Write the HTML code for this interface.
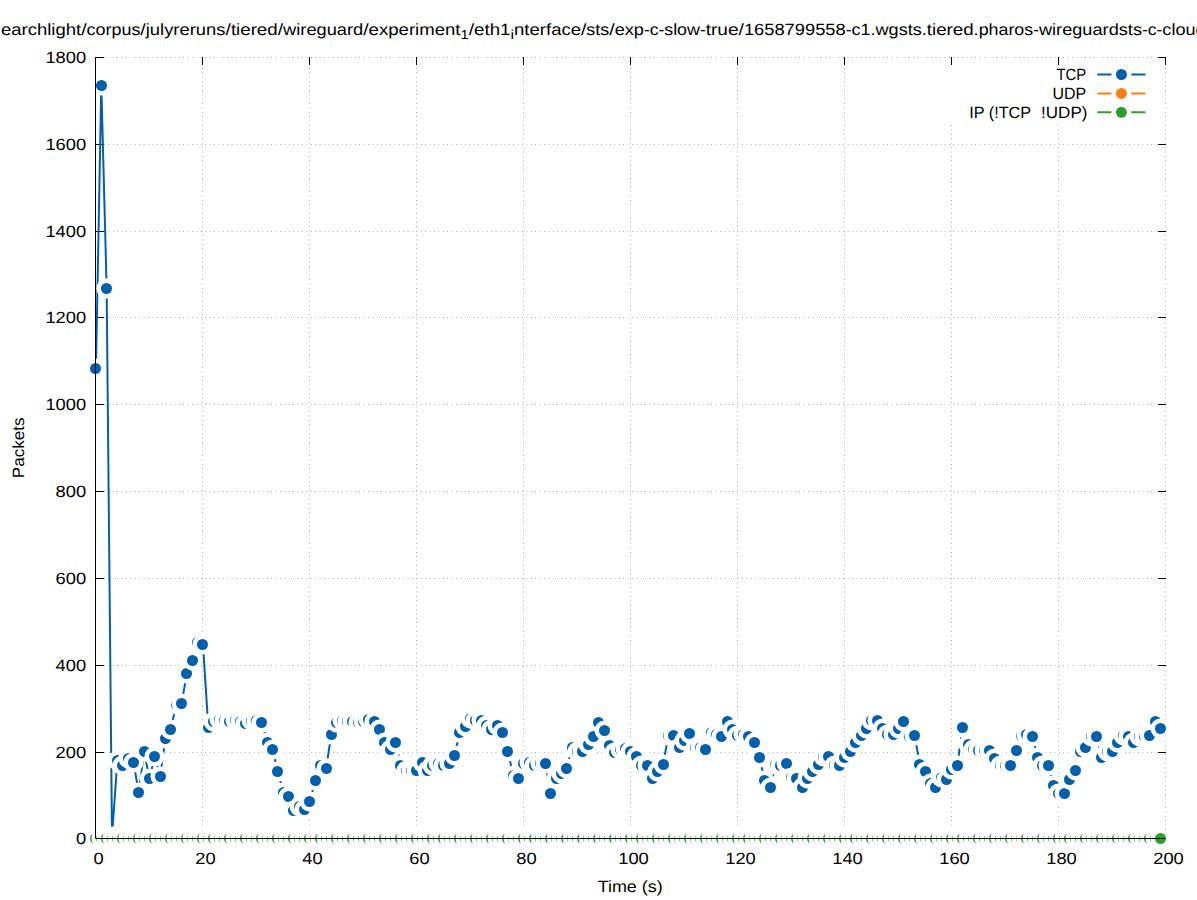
<!DOCTYPE html><html><head><meta charset="utf-8"><style>html,body{margin:0;padding:0;background:#fff;overflow:hidden}svg{display:block}text{font-family:"Liberation Sans",sans-serif;fill:#000;text-rendering:geometricPrecision}</style></head><body>
<svg width="1197" height="900" viewBox="0 0 1197 900">
<rect x="0" y="0" width="1197" height="900" fill="#fff"/>
<defs><pattern id="ph" patternUnits="userSpaceOnUse" x="95" y="0" width="22" height="1"><rect x="0" y="0" width="1" height="1" fill="#b2b2b2" fill-opacity="1"/><rect x="4" y="0" width="1" height="1" fill="#b2b2b2" fill-opacity="0.4"/><rect x="5" y="0" width="1" height="1" fill="#b2b2b2" fill-opacity="0.45"/><rect x="9" y="0" width="1" height="1" fill="#b2b2b2" fill-opacity="1"/><rect x="13" y="0" width="1" height="1" fill="#b2b2b2" fill-opacity="0.45"/><rect x="14" y="0" width="1" height="1" fill="#b2b2b2" fill-opacity="0.4"/><rect x="18" y="0" width="1" height="1" fill="#b2b2b2" fill-opacity="1"/></pattern><pattern id="pv" patternUnits="userSpaceOnUse" x="0" y="817" width="1" height="22"><rect x="0" y="21" width="1" height="1" fill="#b2b2b2" fill-opacity="1"/><rect x="0" y="17" width="1" height="1" fill="#b2b2b2" fill-opacity="0.4"/><rect x="0" y="16" width="1" height="1" fill="#b2b2b2" fill-opacity="0.45"/><rect x="0" y="12" width="1" height="1" fill="#b2b2b2" fill-opacity="1"/><rect x="0" y="8" width="1" height="1" fill="#b2b2b2" fill-opacity="0.45"/><rect x="0" y="7" width="1" height="1" fill="#b2b2b2" fill-opacity="0.4"/><rect x="0" y="3" width="1" height="1" fill="#b2b2b2" fill-opacity="1"/></pattern></defs>
<rect x="96" y="752" width="1070" height="1" fill="url(#ph)"/><rect x="96" y="665" width="1070" height="1" fill="url(#ph)"/><rect x="96" y="578" width="1070" height="1" fill="url(#ph)"/><rect x="96" y="491" width="1070" height="1" fill="url(#ph)"/><rect x="96" y="404" width="1070" height="1" fill="url(#ph)"/><rect x="96" y="317" width="1070" height="1" fill="url(#ph)"/><rect x="96" y="231" width="1070" height="1" fill="url(#ph)"/><rect x="96" y="144" width="1070" height="1" fill="url(#ph)"/><rect x="96" y="57" width="1070" height="1" fill="url(#ph)"/><rect x="202" y="57" width="1" height="781" fill="url(#pv)"/><rect x="309" y="57" width="1" height="781" fill="url(#pv)"/><rect x="416" y="57" width="1" height="781" fill="url(#pv)"/><rect x="523" y="57" width="1" height="781" fill="url(#pv)"/><rect x="630" y="57" width="1" height="781" fill="url(#pv)"/><rect x="737" y="57" width="1" height="781" fill="url(#pv)"/><rect x="844" y="57" width="1" height="781" fill="url(#pv)"/><rect x="951" y="57" width="1" height="781" fill="url(#pv)"/><rect x="1058" y="57" width="1" height="781" fill="url(#pv)"/><rect x="1165" y="57" width="1" height="781" fill="url(#pv)"/>
<path d="M95 838.5H104M1166 838.5H1158M95 752.5H104M1166 752.5H1158M95 665.5H104M1166 665.5H1158M95 578.5H104M1166 578.5H1158M95 491.5H104M1166 491.5H1158M95 404.5H104M1166 404.5H1158M95 317.5H104M1166 317.5H1158M95 231.5H104M1166 231.5H1158M95 144.5H104M1166 144.5H1158M95 57.5H104M1166 57.5H1158M95.5 839V831M95.5 57V65M202.5 839V831M202.5 57V65M309.5 839V831M309.5 57V65M416.5 839V831M416.5 57V65M523.5 839V831M523.5 57V65M630.5 839V831M630.5 57V65M737.5 839V831M737.5 57V65M844.5 839V831M844.5 57V65M951.5 839V831M951.5 57V65M1058.5 839V831M1058.5 57V65M1165.5 839V831M1165.5 57V65" stroke="#000" stroke-width="1" fill="none" stroke-linecap="butt"/>
<rect x="945" y="65" width="215" height="59.5" fill="#fff"/>
<polyline points="95.95,368.91 101.30,85.26 106.65,288.24 112.00,836.47 117.35,760.56 122.70,765.34 128.05,758.40 133.40,762.30 138.75,792.23 144.10,751.46 149.45,778.35 154.80,756.23 160.15,776.18 165.50,738.01 170.85,729.34 176.20,704.18 181.55,703.31 186.90,673.39 192.25,660.37 197.60,642.16 202.95,644.33 208.30,727.17 213.65,721.53 219.00,719.79 224.35,720.66 229.70,721.96 235.05,720.66 240.40,721.53 245.75,723.26 251.10,720.66 256.45,720.66 261.80,722.40 267.15,742.35 272.50,749.29 277.85,771.41 283.20,792.66 288.55,796.56 293.90,810.44 299.25,806.10 304.60,809.57 309.95,801.33 315.30,780.08 320.65,765.34 326.00,768.37 331.35,734.54 336.70,722.40 342.05,720.23 347.40,721.10 352.75,721.10 358.10,722.40 363.45,721.96 368.80,719.79 374.15,721.53 379.50,729.77 384.85,742.35 390.20,749.29 395.55,742.78 400.90,765.34 406.25,770.97 411.60,770.97 416.95,770.97 422.30,762.73 427.65,770.97 433.00,765.77 438.35,763.60 443.70,765.34 449.05,763.17 454.40,755.79 459.75,732.81 465.10,726.30 470.45,718.06 475.80,720.23 481.15,720.23 486.50,725.43 491.85,729.34 497.20,725.87 502.55,732.37 507.90,751.46 513.25,775.31 518.60,778.35 523.95,763.60 529.30,762.30 534.65,765.34 540.00,763.60 545.35,763.60 550.70,793.09 556.05,778.35 561.40,773.14 566.75,768.37 572.10,747.55 577.45,751.46 582.80,751.46 588.15,744.08 593.50,736.28 598.85,722.40 604.20,730.20 609.55,745.82 614.90,752.32 620.25,749.29 625.60,748.42 630.95,751.02 636.30,756.66 641.65,765.34 647.00,765.34 652.35,778.35 657.70,771.41 663.05,764.47 668.40,735.41 673.75,735.41 679.10,747.99 684.45,740.18 689.80,733.24 695.15,747.12 700.50,747.12 705.85,749.29 711.20,732.81 716.55,734.97 721.90,736.28 727.25,721.53 732.60,729.34 737.95,735.84 743.30,734.97 748.65,736.71 754.00,742.35 759.35,757.09 764.70,780.08 770.05,787.45 775.40,764.90 780.75,765.77 786.10,763.60 791.45,777.91 796.80,778.35 802.15,787.02 807.50,778.35 812.85,771.84 818.20,764.03 823.55,756.23 828.90,756.23 834.25,765.34 839.60,765.34 844.95,757.53 850.30,751.02 855.65,742.35 861.00,735.84 866.35,728.47 871.70,720.23 877.05,720.23 882.40,728.90 887.75,734.97 893.10,734.97 898.45,728.04 903.80,721.10 909.15,736.28 914.50,735.41 919.85,764.03 925.20,771.41 930.55,783.99 935.90,787.02 941.25,777.91 946.60,779.21 951.95,769.67 957.30,765.34 962.65,727.60 968.00,744.08 973.35,749.29 978.70,750.59 984.05,750.15 989.40,750.59 994.75,758.40 1000.10,765.77 1005.45,765.34 1010.80,765.34 1016.15,750.15 1021.50,735.41 1026.85,734.97 1032.20,736.28 1037.55,757.53 1042.90,765.34 1048.25,765.34 1053.60,785.72 1058.95,793.53 1064.30,793.53 1069.65,779.21 1075.00,770.97 1080.35,751.02 1085.70,747.12 1091.05,736.71 1096.40,736.28 1101.75,757.53 1107.10,751.89 1112.45,751.02 1117.80,742.35 1123.15,735.84 1128.50,736.71 1133.85,742.35 1139.20,736.71 1144.55,736.71 1149.90,735.41 1155.25,721.53 1160.60,728.47" fill="none" stroke="#0060ad" stroke-width="2" stroke-linejoin="miter"/>
<circle cx="95.5" cy="368.5" r="10.0" fill="#fff"/><circle cx="95.5" cy="368.5" r="5.5" fill="#0060ad"/><circle cx="101.5" cy="85.5" r="10.0" fill="#fff"/><circle cx="101.5" cy="85.5" r="5.5" fill="#0060ad"/><circle cx="106.5" cy="288.5" r="10.0" fill="#fff"/><circle cx="106.5" cy="288.5" r="5.5" fill="#0060ad"/><circle cx="112.5" cy="836.5" r="10.0" fill="#fff"/><circle cx="112.5" cy="836.5" r="5.5" fill="#0060ad"/><circle cx="117.5" cy="760.5" r="10.0" fill="#fff"/><circle cx="117.5" cy="760.5" r="5.5" fill="#0060ad"/><circle cx="122.5" cy="765.5" r="10.0" fill="#fff"/><circle cx="122.5" cy="765.5" r="5.5" fill="#0060ad"/><circle cx="128.5" cy="758.5" r="10.0" fill="#fff"/><circle cx="128.5" cy="758.5" r="5.5" fill="#0060ad"/><circle cx="133.5" cy="762.5" r="10.0" fill="#fff"/><circle cx="133.5" cy="762.5" r="5.5" fill="#0060ad"/><circle cx="138.5" cy="792.5" r="10.0" fill="#fff"/><circle cx="138.5" cy="792.5" r="5.5" fill="#0060ad"/><circle cx="144.5" cy="751.5" r="10.0" fill="#fff"/><circle cx="144.5" cy="751.5" r="5.5" fill="#0060ad"/><circle cx="149.5" cy="778.5" r="10.0" fill="#fff"/><circle cx="149.5" cy="778.5" r="5.5" fill="#0060ad"/><circle cx="154.5" cy="756.5" r="10.0" fill="#fff"/><circle cx="154.5" cy="756.5" r="5.5" fill="#0060ad"/><circle cx="160.5" cy="776.5" r="10.0" fill="#fff"/><circle cx="160.5" cy="776.5" r="5.5" fill="#0060ad"/><circle cx="165.5" cy="738.5" r="10.0" fill="#fff"/><circle cx="165.5" cy="738.5" r="5.5" fill="#0060ad"/><circle cx="170.5" cy="729.5" r="10.0" fill="#fff"/><circle cx="170.5" cy="729.5" r="5.5" fill="#0060ad"/><circle cx="176.5" cy="704.5" r="10.0" fill="#fff"/><circle cx="176.5" cy="704.5" r="5.5" fill="#0060ad"/><circle cx="181.5" cy="703.5" r="10.0" fill="#fff"/><circle cx="181.5" cy="703.5" r="5.5" fill="#0060ad"/><circle cx="186.5" cy="673.5" r="10.0" fill="#fff"/><circle cx="186.5" cy="673.5" r="5.5" fill="#0060ad"/><circle cx="192.5" cy="660.5" r="10.0" fill="#fff"/><circle cx="192.5" cy="660.5" r="5.5" fill="#0060ad"/><circle cx="197.5" cy="642.5" r="10.0" fill="#fff"/><circle cx="197.5" cy="642.5" r="5.5" fill="#0060ad"/><circle cx="202.5" cy="644.5" r="10.0" fill="#fff"/><circle cx="202.5" cy="644.5" r="5.5" fill="#0060ad"/><circle cx="208.5" cy="727.5" r="10.0" fill="#fff"/><circle cx="208.5" cy="727.5" r="5.5" fill="#0060ad"/><circle cx="213.5" cy="721.5" r="10.0" fill="#fff"/><circle cx="213.5" cy="721.5" r="5.5" fill="#0060ad"/><circle cx="219.5" cy="719.5" r="10.0" fill="#fff"/><circle cx="219.5" cy="719.5" r="5.5" fill="#0060ad"/><circle cx="224.5" cy="720.5" r="10.0" fill="#fff"/><circle cx="224.5" cy="720.5" r="5.5" fill="#0060ad"/><circle cx="229.5" cy="721.5" r="10.0" fill="#fff"/><circle cx="229.5" cy="721.5" r="5.5" fill="#0060ad"/><circle cx="235.5" cy="720.5" r="10.0" fill="#fff"/><circle cx="235.5" cy="720.5" r="5.5" fill="#0060ad"/><circle cx="240.5" cy="721.5" r="10.0" fill="#fff"/><circle cx="240.5" cy="721.5" r="5.5" fill="#0060ad"/><circle cx="245.5" cy="723.5" r="10.0" fill="#fff"/><circle cx="245.5" cy="723.5" r="5.5" fill="#0060ad"/><circle cx="251.5" cy="720.5" r="10.0" fill="#fff"/><circle cx="251.5" cy="720.5" r="5.5" fill="#0060ad"/><circle cx="256.5" cy="720.5" r="10.0" fill="#fff"/><circle cx="256.5" cy="720.5" r="5.5" fill="#0060ad"/><circle cx="261.5" cy="722.5" r="10.0" fill="#fff"/><circle cx="261.5" cy="722.5" r="5.5" fill="#0060ad"/><circle cx="267.5" cy="742.5" r="10.0" fill="#fff"/><circle cx="267.5" cy="742.5" r="5.5" fill="#0060ad"/><circle cx="272.5" cy="749.5" r="10.0" fill="#fff"/><circle cx="272.5" cy="749.5" r="5.5" fill="#0060ad"/><circle cx="277.5" cy="771.5" r="10.0" fill="#fff"/><circle cx="277.5" cy="771.5" r="5.5" fill="#0060ad"/><circle cx="283.5" cy="792.5" r="10.0" fill="#fff"/><circle cx="283.5" cy="792.5" r="5.5" fill="#0060ad"/><circle cx="288.5" cy="796.5" r="10.0" fill="#fff"/><circle cx="288.5" cy="796.5" r="5.5" fill="#0060ad"/><circle cx="293.5" cy="810.5" r="10.0" fill="#fff"/><circle cx="293.5" cy="810.5" r="5.5" fill="#0060ad"/><circle cx="299.5" cy="806.5" r="10.0" fill="#fff"/><circle cx="299.5" cy="806.5" r="5.5" fill="#0060ad"/><circle cx="304.5" cy="809.5" r="10.0" fill="#fff"/><circle cx="304.5" cy="809.5" r="5.5" fill="#0060ad"/><circle cx="309.5" cy="801.5" r="10.0" fill="#fff"/><circle cx="309.5" cy="801.5" r="5.5" fill="#0060ad"/><circle cx="315.5" cy="780.5" r="10.0" fill="#fff"/><circle cx="315.5" cy="780.5" r="5.5" fill="#0060ad"/><circle cx="320.5" cy="765.5" r="10.0" fill="#fff"/><circle cx="320.5" cy="765.5" r="5.5" fill="#0060ad"/><circle cx="326.5" cy="768.5" r="10.0" fill="#fff"/><circle cx="326.5" cy="768.5" r="5.5" fill="#0060ad"/><circle cx="331.5" cy="734.5" r="10.0" fill="#fff"/><circle cx="331.5" cy="734.5" r="5.5" fill="#0060ad"/><circle cx="336.5" cy="722.5" r="10.0" fill="#fff"/><circle cx="336.5" cy="722.5" r="5.5" fill="#0060ad"/><circle cx="342.5" cy="720.5" r="10.0" fill="#fff"/><circle cx="342.5" cy="720.5" r="5.5" fill="#0060ad"/><circle cx="347.5" cy="721.5" r="10.0" fill="#fff"/><circle cx="347.5" cy="721.5" r="5.5" fill="#0060ad"/><circle cx="352.5" cy="721.5" r="10.0" fill="#fff"/><circle cx="352.5" cy="721.5" r="5.5" fill="#0060ad"/><circle cx="358.5" cy="722.5" r="10.0" fill="#fff"/><circle cx="358.5" cy="722.5" r="5.5" fill="#0060ad"/><circle cx="363.5" cy="721.5" r="10.0" fill="#fff"/><circle cx="363.5" cy="721.5" r="5.5" fill="#0060ad"/><circle cx="368.5" cy="719.5" r="10.0" fill="#fff"/><circle cx="368.5" cy="719.5" r="5.5" fill="#0060ad"/><circle cx="374.5" cy="721.5" r="10.0" fill="#fff"/><circle cx="374.5" cy="721.5" r="5.5" fill="#0060ad"/><circle cx="379.5" cy="729.5" r="10.0" fill="#fff"/><circle cx="379.5" cy="729.5" r="5.5" fill="#0060ad"/><circle cx="384.5" cy="742.5" r="10.0" fill="#fff"/><circle cx="384.5" cy="742.5" r="5.5" fill="#0060ad"/><circle cx="390.5" cy="749.5" r="10.0" fill="#fff"/><circle cx="390.5" cy="749.5" r="5.5" fill="#0060ad"/><circle cx="395.5" cy="742.5" r="10.0" fill="#fff"/><circle cx="395.5" cy="742.5" r="5.5" fill="#0060ad"/><circle cx="400.5" cy="765.5" r="10.0" fill="#fff"/><circle cx="400.5" cy="765.5" r="5.5" fill="#0060ad"/><circle cx="406.5" cy="770.5" r="10.0" fill="#fff"/><circle cx="406.5" cy="770.5" r="5.5" fill="#0060ad"/><circle cx="411.5" cy="770.5" r="10.0" fill="#fff"/><circle cx="411.5" cy="770.5" r="5.5" fill="#0060ad"/><circle cx="416.5" cy="770.5" r="10.0" fill="#fff"/><circle cx="416.5" cy="770.5" r="5.5" fill="#0060ad"/><circle cx="422.5" cy="762.5" r="10.0" fill="#fff"/><circle cx="422.5" cy="762.5" r="5.5" fill="#0060ad"/><circle cx="427.5" cy="770.5" r="10.0" fill="#fff"/><circle cx="427.5" cy="770.5" r="5.5" fill="#0060ad"/><circle cx="432.5" cy="765.5" r="10.0" fill="#fff"/><circle cx="432.5" cy="765.5" r="5.5" fill="#0060ad"/><circle cx="438.5" cy="763.5" r="10.0" fill="#fff"/><circle cx="438.5" cy="763.5" r="5.5" fill="#0060ad"/><circle cx="443.5" cy="765.5" r="10.0" fill="#fff"/><circle cx="443.5" cy="765.5" r="5.5" fill="#0060ad"/><circle cx="449.5" cy="763.5" r="10.0" fill="#fff"/><circle cx="449.5" cy="763.5" r="5.5" fill="#0060ad"/><circle cx="454.5" cy="755.5" r="10.0" fill="#fff"/><circle cx="454.5" cy="755.5" r="5.5" fill="#0060ad"/><circle cx="459.5" cy="732.5" r="10.0" fill="#fff"/><circle cx="459.5" cy="732.5" r="5.5" fill="#0060ad"/><circle cx="465.5" cy="726.5" r="10.0" fill="#fff"/><circle cx="465.5" cy="726.5" r="5.5" fill="#0060ad"/><circle cx="470.5" cy="718.5" r="10.0" fill="#fff"/><circle cx="470.5" cy="718.5" r="5.5" fill="#0060ad"/><circle cx="475.5" cy="720.5" r="10.0" fill="#fff"/><circle cx="475.5" cy="720.5" r="5.5" fill="#0060ad"/><circle cx="481.5" cy="720.5" r="10.0" fill="#fff"/><circle cx="481.5" cy="720.5" r="5.5" fill="#0060ad"/><circle cx="486.5" cy="725.5" r="10.0" fill="#fff"/><circle cx="486.5" cy="725.5" r="5.5" fill="#0060ad"/><circle cx="491.5" cy="729.5" r="10.0" fill="#fff"/><circle cx="491.5" cy="729.5" r="5.5" fill="#0060ad"/><circle cx="497.5" cy="725.5" r="10.0" fill="#fff"/><circle cx="497.5" cy="725.5" r="5.5" fill="#0060ad"/><circle cx="502.5" cy="732.5" r="10.0" fill="#fff"/><circle cx="502.5" cy="732.5" r="5.5" fill="#0060ad"/><circle cx="507.5" cy="751.5" r="10.0" fill="#fff"/><circle cx="507.5" cy="751.5" r="5.5" fill="#0060ad"/><circle cx="513.5" cy="775.5" r="10.0" fill="#fff"/><circle cx="513.5" cy="775.5" r="5.5" fill="#0060ad"/><circle cx="518.5" cy="778.5" r="10.0" fill="#fff"/><circle cx="518.5" cy="778.5" r="5.5" fill="#0060ad"/><circle cx="523.5" cy="763.5" r="10.0" fill="#fff"/><circle cx="523.5" cy="763.5" r="5.5" fill="#0060ad"/><circle cx="529.5" cy="762.5" r="10.0" fill="#fff"/><circle cx="529.5" cy="762.5" r="5.5" fill="#0060ad"/><circle cx="534.5" cy="765.5" r="10.0" fill="#fff"/><circle cx="534.5" cy="765.5" r="5.5" fill="#0060ad"/><circle cx="540.5" cy="763.5" r="10.0" fill="#fff"/><circle cx="540.5" cy="763.5" r="5.5" fill="#0060ad"/><circle cx="545.5" cy="763.5" r="10.0" fill="#fff"/><circle cx="545.5" cy="763.5" r="5.5" fill="#0060ad"/><circle cx="550.5" cy="793.5" r="10.0" fill="#fff"/><circle cx="550.5" cy="793.5" r="5.5" fill="#0060ad"/><circle cx="556.5" cy="778.5" r="10.0" fill="#fff"/><circle cx="556.5" cy="778.5" r="5.5" fill="#0060ad"/><circle cx="561.5" cy="773.5" r="10.0" fill="#fff"/><circle cx="561.5" cy="773.5" r="5.5" fill="#0060ad"/><circle cx="566.5" cy="768.5" r="10.0" fill="#fff"/><circle cx="566.5" cy="768.5" r="5.5" fill="#0060ad"/><circle cx="572.5" cy="747.5" r="10.0" fill="#fff"/><circle cx="572.5" cy="747.5" r="5.5" fill="#0060ad"/><circle cx="577.5" cy="751.5" r="10.0" fill="#fff"/><circle cx="577.5" cy="751.5" r="5.5" fill="#0060ad"/><circle cx="582.5" cy="751.5" r="10.0" fill="#fff"/><circle cx="582.5" cy="751.5" r="5.5" fill="#0060ad"/><circle cx="588.5" cy="744.5" r="10.0" fill="#fff"/><circle cx="588.5" cy="744.5" r="5.5" fill="#0060ad"/><circle cx="593.5" cy="736.5" r="10.0" fill="#fff"/><circle cx="593.5" cy="736.5" r="5.5" fill="#0060ad"/><circle cx="598.5" cy="722.5" r="10.0" fill="#fff"/><circle cx="598.5" cy="722.5" r="5.5" fill="#0060ad"/><circle cx="604.5" cy="730.5" r="10.0" fill="#fff"/><circle cx="604.5" cy="730.5" r="5.5" fill="#0060ad"/><circle cx="609.5" cy="745.5" r="10.0" fill="#fff"/><circle cx="609.5" cy="745.5" r="5.5" fill="#0060ad"/><circle cx="614.5" cy="752.5" r="10.0" fill="#fff"/><circle cx="614.5" cy="752.5" r="5.5" fill="#0060ad"/><circle cx="620.5" cy="749.5" r="10.0" fill="#fff"/><circle cx="620.5" cy="749.5" r="5.5" fill="#0060ad"/><circle cx="625.5" cy="748.5" r="10.0" fill="#fff"/><circle cx="625.5" cy="748.5" r="5.5" fill="#0060ad"/><circle cx="630.5" cy="751.5" r="10.0" fill="#fff"/><circle cx="630.5" cy="751.5" r="5.5" fill="#0060ad"/><circle cx="636.5" cy="756.5" r="10.0" fill="#fff"/><circle cx="636.5" cy="756.5" r="5.5" fill="#0060ad"/><circle cx="641.5" cy="765.5" r="10.0" fill="#fff"/><circle cx="641.5" cy="765.5" r="5.5" fill="#0060ad"/><circle cx="647.5" cy="765.5" r="10.0" fill="#fff"/><circle cx="647.5" cy="765.5" r="5.5" fill="#0060ad"/><circle cx="652.5" cy="778.5" r="10.0" fill="#fff"/><circle cx="652.5" cy="778.5" r="5.5" fill="#0060ad"/><circle cx="657.5" cy="771.5" r="10.0" fill="#fff"/><circle cx="657.5" cy="771.5" r="5.5" fill="#0060ad"/><circle cx="663.5" cy="764.5" r="10.0" fill="#fff"/><circle cx="663.5" cy="764.5" r="5.5" fill="#0060ad"/><circle cx="668.5" cy="735.5" r="10.0" fill="#fff"/><circle cx="668.5" cy="735.5" r="5.5" fill="#0060ad"/><circle cx="673.5" cy="735.5" r="10.0" fill="#fff"/><circle cx="673.5" cy="735.5" r="5.5" fill="#0060ad"/><circle cx="679.5" cy="747.5" r="10.0" fill="#fff"/><circle cx="679.5" cy="747.5" r="5.5" fill="#0060ad"/><circle cx="684.5" cy="740.5" r="10.0" fill="#fff"/><circle cx="684.5" cy="740.5" r="5.5" fill="#0060ad"/><circle cx="689.5" cy="733.5" r="10.0" fill="#fff"/><circle cx="689.5" cy="733.5" r="5.5" fill="#0060ad"/><circle cx="695.5" cy="747.5" r="10.0" fill="#fff"/><circle cx="695.5" cy="747.5" r="5.5" fill="#0060ad"/><circle cx="700.5" cy="747.5" r="10.0" fill="#fff"/><circle cx="700.5" cy="747.5" r="5.5" fill="#0060ad"/><circle cx="705.5" cy="749.5" r="10.0" fill="#fff"/><circle cx="705.5" cy="749.5" r="5.5" fill="#0060ad"/><circle cx="711.5" cy="732.5" r="10.0" fill="#fff"/><circle cx="711.5" cy="732.5" r="5.5" fill="#0060ad"/><circle cx="716.5" cy="734.5" r="10.0" fill="#fff"/><circle cx="716.5" cy="734.5" r="5.5" fill="#0060ad"/><circle cx="721.5" cy="736.5" r="10.0" fill="#fff"/><circle cx="721.5" cy="736.5" r="5.5" fill="#0060ad"/><circle cx="727.5" cy="721.5" r="10.0" fill="#fff"/><circle cx="727.5" cy="721.5" r="5.5" fill="#0060ad"/><circle cx="732.5" cy="729.5" r="10.0" fill="#fff"/><circle cx="732.5" cy="729.5" r="5.5" fill="#0060ad"/><circle cx="737.5" cy="735.5" r="10.0" fill="#fff"/><circle cx="737.5" cy="735.5" r="5.5" fill="#0060ad"/><circle cx="743.5" cy="734.5" r="10.0" fill="#fff"/><circle cx="743.5" cy="734.5" r="5.5" fill="#0060ad"/><circle cx="748.5" cy="736.5" r="10.0" fill="#fff"/><circle cx="748.5" cy="736.5" r="5.5" fill="#0060ad"/><circle cx="754.5" cy="742.5" r="10.0" fill="#fff"/><circle cx="754.5" cy="742.5" r="5.5" fill="#0060ad"/><circle cx="759.5" cy="757.5" r="10.0" fill="#fff"/><circle cx="759.5" cy="757.5" r="5.5" fill="#0060ad"/><circle cx="764.5" cy="780.5" r="10.0" fill="#fff"/><circle cx="764.5" cy="780.5" r="5.5" fill="#0060ad"/><circle cx="770.5" cy="787.5" r="10.0" fill="#fff"/><circle cx="770.5" cy="787.5" r="5.5" fill="#0060ad"/><circle cx="775.5" cy="764.5" r="10.0" fill="#fff"/><circle cx="775.5" cy="764.5" r="5.5" fill="#0060ad"/><circle cx="780.5" cy="765.5" r="10.0" fill="#fff"/><circle cx="780.5" cy="765.5" r="5.5" fill="#0060ad"/><circle cx="786.5" cy="763.5" r="10.0" fill="#fff"/><circle cx="786.5" cy="763.5" r="5.5" fill="#0060ad"/><circle cx="791.5" cy="777.5" r="10.0" fill="#fff"/><circle cx="791.5" cy="777.5" r="5.5" fill="#0060ad"/><circle cx="796.5" cy="778.5" r="10.0" fill="#fff"/><circle cx="796.5" cy="778.5" r="5.5" fill="#0060ad"/><circle cx="802.5" cy="787.5" r="10.0" fill="#fff"/><circle cx="802.5" cy="787.5" r="5.5" fill="#0060ad"/><circle cx="807.5" cy="778.5" r="10.0" fill="#fff"/><circle cx="807.5" cy="778.5" r="5.5" fill="#0060ad"/><circle cx="812.5" cy="771.5" r="10.0" fill="#fff"/><circle cx="812.5" cy="771.5" r="5.5" fill="#0060ad"/><circle cx="818.5" cy="764.5" r="10.0" fill="#fff"/><circle cx="818.5" cy="764.5" r="5.5" fill="#0060ad"/><circle cx="823.5" cy="756.5" r="10.0" fill="#fff"/><circle cx="823.5" cy="756.5" r="5.5" fill="#0060ad"/><circle cx="828.5" cy="756.5" r="10.0" fill="#fff"/><circle cx="828.5" cy="756.5" r="5.5" fill="#0060ad"/><circle cx="834.5" cy="765.5" r="10.0" fill="#fff"/><circle cx="834.5" cy="765.5" r="5.5" fill="#0060ad"/><circle cx="839.5" cy="765.5" r="10.0" fill="#fff"/><circle cx="839.5" cy="765.5" r="5.5" fill="#0060ad"/><circle cx="844.5" cy="757.5" r="10.0" fill="#fff"/><circle cx="844.5" cy="757.5" r="5.5" fill="#0060ad"/><circle cx="850.5" cy="751.5" r="10.0" fill="#fff"/><circle cx="850.5" cy="751.5" r="5.5" fill="#0060ad"/><circle cx="855.5" cy="742.5" r="10.0" fill="#fff"/><circle cx="855.5" cy="742.5" r="5.5" fill="#0060ad"/><circle cx="861.5" cy="735.5" r="10.0" fill="#fff"/><circle cx="861.5" cy="735.5" r="5.5" fill="#0060ad"/><circle cx="866.5" cy="728.5" r="10.0" fill="#fff"/><circle cx="866.5" cy="728.5" r="5.5" fill="#0060ad"/><circle cx="871.5" cy="720.5" r="10.0" fill="#fff"/><circle cx="871.5" cy="720.5" r="5.5" fill="#0060ad"/><circle cx="877.5" cy="720.5" r="10.0" fill="#fff"/><circle cx="877.5" cy="720.5" r="5.5" fill="#0060ad"/><circle cx="882.5" cy="728.5" r="10.0" fill="#fff"/><circle cx="882.5" cy="728.5" r="5.5" fill="#0060ad"/><circle cx="887.5" cy="734.5" r="10.0" fill="#fff"/><circle cx="887.5" cy="734.5" r="5.5" fill="#0060ad"/><circle cx="893.5" cy="734.5" r="10.0" fill="#fff"/><circle cx="893.5" cy="734.5" r="5.5" fill="#0060ad"/><circle cx="898.5" cy="728.5" r="10.0" fill="#fff"/><circle cx="898.5" cy="728.5" r="5.5" fill="#0060ad"/><circle cx="903.5" cy="721.5" r="10.0" fill="#fff"/><circle cx="903.5" cy="721.5" r="5.5" fill="#0060ad"/><circle cx="909.5" cy="736.5" r="10.0" fill="#fff"/><circle cx="909.5" cy="736.5" r="5.5" fill="#0060ad"/><circle cx="914.5" cy="735.5" r="10.0" fill="#fff"/><circle cx="914.5" cy="735.5" r="5.5" fill="#0060ad"/><circle cx="919.5" cy="764.5" r="10.0" fill="#fff"/><circle cx="919.5" cy="764.5" r="5.5" fill="#0060ad"/><circle cx="925.5" cy="771.5" r="10.0" fill="#fff"/><circle cx="925.5" cy="771.5" r="5.5" fill="#0060ad"/><circle cx="930.5" cy="783.5" r="10.0" fill="#fff"/><circle cx="930.5" cy="783.5" r="5.5" fill="#0060ad"/><circle cx="935.5" cy="787.5" r="10.0" fill="#fff"/><circle cx="935.5" cy="787.5" r="5.5" fill="#0060ad"/><circle cx="941.5" cy="777.5" r="10.0" fill="#fff"/><circle cx="941.5" cy="777.5" r="5.5" fill="#0060ad"/><circle cx="946.5" cy="779.5" r="10.0" fill="#fff"/><circle cx="946.5" cy="779.5" r="5.5" fill="#0060ad"/><circle cx="951.5" cy="769.5" r="10.0" fill="#fff"/><circle cx="951.5" cy="769.5" r="5.5" fill="#0060ad"/><circle cx="957.5" cy="765.5" r="10.0" fill="#fff"/><circle cx="957.5" cy="765.5" r="5.5" fill="#0060ad"/><circle cx="962.5" cy="727.5" r="10.0" fill="#fff"/><circle cx="962.5" cy="727.5" r="5.5" fill="#0060ad"/><circle cx="968.5" cy="744.5" r="10.0" fill="#fff"/><circle cx="968.5" cy="744.5" r="5.5" fill="#0060ad"/><circle cx="973.5" cy="749.5" r="10.0" fill="#fff"/><circle cx="973.5" cy="749.5" r="5.5" fill="#0060ad"/><circle cx="978.5" cy="750.5" r="10.0" fill="#fff"/><circle cx="978.5" cy="750.5" r="5.5" fill="#0060ad"/><circle cx="984.5" cy="750.5" r="10.0" fill="#fff"/><circle cx="984.5" cy="750.5" r="5.5" fill="#0060ad"/><circle cx="989.5" cy="750.5" r="10.0" fill="#fff"/><circle cx="989.5" cy="750.5" r="5.5" fill="#0060ad"/><circle cx="994.5" cy="758.5" r="10.0" fill="#fff"/><circle cx="994.5" cy="758.5" r="5.5" fill="#0060ad"/><circle cx="1000.5" cy="765.5" r="10.0" fill="#fff"/><circle cx="1000.5" cy="765.5" r="5.5" fill="#0060ad"/><circle cx="1005.5" cy="765.5" r="10.0" fill="#fff"/><circle cx="1005.5" cy="765.5" r="5.5" fill="#0060ad"/><circle cx="1010.5" cy="765.5" r="10.0" fill="#fff"/><circle cx="1010.5" cy="765.5" r="5.5" fill="#0060ad"/><circle cx="1016.5" cy="750.5" r="10.0" fill="#fff"/><circle cx="1016.5" cy="750.5" r="5.5" fill="#0060ad"/><circle cx="1021.5" cy="735.5" r="10.0" fill="#fff"/><circle cx="1021.5" cy="735.5" r="5.5" fill="#0060ad"/><circle cx="1026.5" cy="734.5" r="10.0" fill="#fff"/><circle cx="1026.5" cy="734.5" r="5.5" fill="#0060ad"/><circle cx="1032.5" cy="736.5" r="10.0" fill="#fff"/><circle cx="1032.5" cy="736.5" r="5.5" fill="#0060ad"/><circle cx="1037.5" cy="757.5" r="10.0" fill="#fff"/><circle cx="1037.5" cy="757.5" r="5.5" fill="#0060ad"/><circle cx="1042.5" cy="765.5" r="10.0" fill="#fff"/><circle cx="1042.5" cy="765.5" r="5.5" fill="#0060ad"/><circle cx="1048.5" cy="765.5" r="10.0" fill="#fff"/><circle cx="1048.5" cy="765.5" r="5.5" fill="#0060ad"/><circle cx="1053.5" cy="785.5" r="10.0" fill="#fff"/><circle cx="1053.5" cy="785.5" r="5.5" fill="#0060ad"/><circle cx="1058.5" cy="793.5" r="10.0" fill="#fff"/><circle cx="1058.5" cy="793.5" r="5.5" fill="#0060ad"/><circle cx="1064.5" cy="793.5" r="10.0" fill="#fff"/><circle cx="1064.5" cy="793.5" r="5.5" fill="#0060ad"/><circle cx="1069.5" cy="779.5" r="10.0" fill="#fff"/><circle cx="1069.5" cy="779.5" r="5.5" fill="#0060ad"/><circle cx="1075.5" cy="770.5" r="10.0" fill="#fff"/><circle cx="1075.5" cy="770.5" r="5.5" fill="#0060ad"/><circle cx="1080.5" cy="751.5" r="10.0" fill="#fff"/><circle cx="1080.5" cy="751.5" r="5.5" fill="#0060ad"/><circle cx="1085.5" cy="747.5" r="10.0" fill="#fff"/><circle cx="1085.5" cy="747.5" r="5.5" fill="#0060ad"/><circle cx="1091.5" cy="736.5" r="10.0" fill="#fff"/><circle cx="1091.5" cy="736.5" r="5.5" fill="#0060ad"/><circle cx="1096.5" cy="736.5" r="10.0" fill="#fff"/><circle cx="1096.5" cy="736.5" r="5.5" fill="#0060ad"/><circle cx="1101.5" cy="757.5" r="10.0" fill="#fff"/><circle cx="1101.5" cy="757.5" r="5.5" fill="#0060ad"/><circle cx="1107.5" cy="751.5" r="10.0" fill="#fff"/><circle cx="1107.5" cy="751.5" r="5.5" fill="#0060ad"/><circle cx="1112.5" cy="751.5" r="10.0" fill="#fff"/><circle cx="1112.5" cy="751.5" r="5.5" fill="#0060ad"/><circle cx="1117.5" cy="742.5" r="10.0" fill="#fff"/><circle cx="1117.5" cy="742.5" r="5.5" fill="#0060ad"/><circle cx="1123.5" cy="735.5" r="10.0" fill="#fff"/><circle cx="1123.5" cy="735.5" r="5.5" fill="#0060ad"/><circle cx="1128.5" cy="736.5" r="10.0" fill="#fff"/><circle cx="1128.5" cy="736.5" r="5.5" fill="#0060ad"/><circle cx="1133.5" cy="742.5" r="10.0" fill="#fff"/><circle cx="1133.5" cy="742.5" r="5.5" fill="#0060ad"/><circle cx="1139.5" cy="736.5" r="10.0" fill="#fff"/><circle cx="1139.5" cy="736.5" r="5.5" fill="#0060ad"/><circle cx="1144.5" cy="736.5" r="10.0" fill="#fff"/><circle cx="1144.5" cy="736.5" r="5.5" fill="#0060ad"/><circle cx="1149.5" cy="735.5" r="10.0" fill="#fff"/><circle cx="1149.5" cy="735.5" r="5.5" fill="#0060ad"/><circle cx="1155.5" cy="721.5" r="10.0" fill="#fff"/><circle cx="1155.5" cy="721.5" r="5.5" fill="#0060ad"/><circle cx="1160.5" cy="728.5" r="10.0" fill="#fff"/><circle cx="1160.5" cy="728.5" r="5.5" fill="#0060ad"/>
<polyline points="95.95,838.20 101.30,838.20 106.65,838.20 112.00,838.20 117.35,838.20 122.70,838.20 128.05,838.20 133.40,838.20 138.75,838.20 144.10,838.20 149.45,838.20 154.80,838.20 160.15,838.20 165.50,838.20 170.85,838.20 176.20,838.20 181.55,838.20 186.90,838.20 192.25,838.20 197.60,838.20 202.95,838.20 208.30,838.20 213.65,838.20 219.00,838.20 224.35,838.20 229.70,838.20 235.05,838.20 240.40,838.20 245.75,838.20 251.10,838.20 256.45,838.20 261.80,838.20 267.15,838.20 272.50,838.20 277.85,838.20 283.20,838.20 288.55,838.20 293.90,838.20 299.25,838.20 304.60,838.20 309.95,838.20 315.30,838.20 320.65,838.20 326.00,838.20 331.35,838.20 336.70,838.20 342.05,838.20 347.40,838.20 352.75,838.20 358.10,838.20 363.45,838.20 368.80,838.20 374.15,838.20 379.50,838.20 384.85,838.20 390.20,838.20 395.55,838.20 400.90,838.20 406.25,838.20 411.60,838.20 416.95,838.20 422.30,838.20 427.65,838.20 433.00,838.20 438.35,838.20 443.70,838.20 449.05,838.20 454.40,838.20 459.75,838.20 465.10,838.20 470.45,838.20 475.80,838.20 481.15,838.20 486.50,838.20 491.85,838.20 497.20,838.20 502.55,838.20 507.90,838.20 513.25,838.20 518.60,838.20 523.95,838.20 529.30,838.20 534.65,838.20 540.00,838.20 545.35,838.20 550.70,838.20 556.05,838.20 561.40,838.20 566.75,838.20 572.10,838.20 577.45,838.20 582.80,838.20 588.15,838.20 593.50,838.20 598.85,838.20 604.20,838.20 609.55,838.20 614.90,838.20 620.25,838.20 625.60,838.20 630.95,838.20 636.30,838.20 641.65,838.20 647.00,838.20 652.35,838.20 657.70,838.20 663.05,838.20 668.40,838.20 673.75,838.20 679.10,838.20 684.45,838.20 689.80,838.20 695.15,838.20 700.50,838.20 705.85,838.20 711.20,838.20 716.55,838.20 721.90,838.20 727.25,838.20 732.60,838.20 737.95,838.20 743.30,838.20 748.65,838.20 754.00,838.20 759.35,838.20 764.70,838.20 770.05,838.20 775.40,838.20 780.75,838.20 786.10,838.20 791.45,838.20 796.80,838.20 802.15,838.20 807.50,838.20 812.85,838.20 818.20,838.20 823.55,838.20 828.90,838.20 834.25,838.20 839.60,838.20 844.95,838.20 850.30,838.20 855.65,838.20 861.00,838.20 866.35,838.20 871.70,838.20 877.05,838.20 882.40,838.20 887.75,838.20 893.10,838.20 898.45,838.20 903.80,838.20 909.15,838.20 914.50,838.20 919.85,838.20 925.20,838.20 930.55,838.20 935.90,838.20 941.25,838.20 946.60,838.20 951.95,838.20 957.30,838.20 962.65,838.20 968.00,838.20 973.35,838.20 978.70,838.20 984.05,838.20 989.40,838.20 994.75,838.20 1000.10,838.20 1005.45,838.20 1010.80,838.20 1016.15,838.20 1021.50,838.20 1026.85,838.20 1032.20,838.20 1037.55,838.20 1042.90,838.20 1048.25,838.20 1053.60,838.20 1058.95,838.20 1064.30,838.20 1069.65,838.20 1075.00,838.20 1080.35,838.20 1085.70,838.20 1091.05,838.20 1096.40,838.20 1101.75,838.20 1107.10,838.20 1112.45,838.20 1117.80,838.20 1123.15,838.20 1128.50,838.20 1133.85,838.20 1139.20,838.20 1144.55,838.20 1149.90,838.20 1155.25,838.20 1160.60,838.20" fill="none" stroke="#ff7f0e" stroke-width="2" stroke-linejoin="miter"/>
<circle cx="95.5" cy="838.5" r="10.0" fill="#fff"/><circle cx="95.5" cy="838.5" r="5.5" fill="#ff7f0e"/><circle cx="101.5" cy="838.5" r="10.0" fill="#fff"/><circle cx="101.5" cy="838.5" r="5.5" fill="#ff7f0e"/><circle cx="106.5" cy="838.5" r="10.0" fill="#fff"/><circle cx="106.5" cy="838.5" r="5.5" fill="#ff7f0e"/><circle cx="112.5" cy="838.5" r="10.0" fill="#fff"/><circle cx="112.5" cy="838.5" r="5.5" fill="#ff7f0e"/><circle cx="117.5" cy="838.5" r="10.0" fill="#fff"/><circle cx="117.5" cy="838.5" r="5.5" fill="#ff7f0e"/><circle cx="122.5" cy="838.5" r="10.0" fill="#fff"/><circle cx="122.5" cy="838.5" r="5.5" fill="#ff7f0e"/><circle cx="128.5" cy="838.5" r="10.0" fill="#fff"/><circle cx="128.5" cy="838.5" r="5.5" fill="#ff7f0e"/><circle cx="133.5" cy="838.5" r="10.0" fill="#fff"/><circle cx="133.5" cy="838.5" r="5.5" fill="#ff7f0e"/><circle cx="138.5" cy="838.5" r="10.0" fill="#fff"/><circle cx="138.5" cy="838.5" r="5.5" fill="#ff7f0e"/><circle cx="144.5" cy="838.5" r="10.0" fill="#fff"/><circle cx="144.5" cy="838.5" r="5.5" fill="#ff7f0e"/><circle cx="149.5" cy="838.5" r="10.0" fill="#fff"/><circle cx="149.5" cy="838.5" r="5.5" fill="#ff7f0e"/><circle cx="154.5" cy="838.5" r="10.0" fill="#fff"/><circle cx="154.5" cy="838.5" r="5.5" fill="#ff7f0e"/><circle cx="160.5" cy="838.5" r="10.0" fill="#fff"/><circle cx="160.5" cy="838.5" r="5.5" fill="#ff7f0e"/><circle cx="165.5" cy="838.5" r="10.0" fill="#fff"/><circle cx="165.5" cy="838.5" r="5.5" fill="#ff7f0e"/><circle cx="170.5" cy="838.5" r="10.0" fill="#fff"/><circle cx="170.5" cy="838.5" r="5.5" fill="#ff7f0e"/><circle cx="176.5" cy="838.5" r="10.0" fill="#fff"/><circle cx="176.5" cy="838.5" r="5.5" fill="#ff7f0e"/><circle cx="181.5" cy="838.5" r="10.0" fill="#fff"/><circle cx="181.5" cy="838.5" r="5.5" fill="#ff7f0e"/><circle cx="186.5" cy="838.5" r="10.0" fill="#fff"/><circle cx="186.5" cy="838.5" r="5.5" fill="#ff7f0e"/><circle cx="192.5" cy="838.5" r="10.0" fill="#fff"/><circle cx="192.5" cy="838.5" r="5.5" fill="#ff7f0e"/><circle cx="197.5" cy="838.5" r="10.0" fill="#fff"/><circle cx="197.5" cy="838.5" r="5.5" fill="#ff7f0e"/><circle cx="202.5" cy="838.5" r="10.0" fill="#fff"/><circle cx="202.5" cy="838.5" r="5.5" fill="#ff7f0e"/><circle cx="208.5" cy="838.5" r="10.0" fill="#fff"/><circle cx="208.5" cy="838.5" r="5.5" fill="#ff7f0e"/><circle cx="213.5" cy="838.5" r="10.0" fill="#fff"/><circle cx="213.5" cy="838.5" r="5.5" fill="#ff7f0e"/><circle cx="219.5" cy="838.5" r="10.0" fill="#fff"/><circle cx="219.5" cy="838.5" r="5.5" fill="#ff7f0e"/><circle cx="224.5" cy="838.5" r="10.0" fill="#fff"/><circle cx="224.5" cy="838.5" r="5.5" fill="#ff7f0e"/><circle cx="229.5" cy="838.5" r="10.0" fill="#fff"/><circle cx="229.5" cy="838.5" r="5.5" fill="#ff7f0e"/><circle cx="235.5" cy="838.5" r="10.0" fill="#fff"/><circle cx="235.5" cy="838.5" r="5.5" fill="#ff7f0e"/><circle cx="240.5" cy="838.5" r="10.0" fill="#fff"/><circle cx="240.5" cy="838.5" r="5.5" fill="#ff7f0e"/><circle cx="245.5" cy="838.5" r="10.0" fill="#fff"/><circle cx="245.5" cy="838.5" r="5.5" fill="#ff7f0e"/><circle cx="251.5" cy="838.5" r="10.0" fill="#fff"/><circle cx="251.5" cy="838.5" r="5.5" fill="#ff7f0e"/><circle cx="256.5" cy="838.5" r="10.0" fill="#fff"/><circle cx="256.5" cy="838.5" r="5.5" fill="#ff7f0e"/><circle cx="261.5" cy="838.5" r="10.0" fill="#fff"/><circle cx="261.5" cy="838.5" r="5.5" fill="#ff7f0e"/><circle cx="267.5" cy="838.5" r="10.0" fill="#fff"/><circle cx="267.5" cy="838.5" r="5.5" fill="#ff7f0e"/><circle cx="272.5" cy="838.5" r="10.0" fill="#fff"/><circle cx="272.5" cy="838.5" r="5.5" fill="#ff7f0e"/><circle cx="277.5" cy="838.5" r="10.0" fill="#fff"/><circle cx="277.5" cy="838.5" r="5.5" fill="#ff7f0e"/><circle cx="283.5" cy="838.5" r="10.0" fill="#fff"/><circle cx="283.5" cy="838.5" r="5.5" fill="#ff7f0e"/><circle cx="288.5" cy="838.5" r="10.0" fill="#fff"/><circle cx="288.5" cy="838.5" r="5.5" fill="#ff7f0e"/><circle cx="293.5" cy="838.5" r="10.0" fill="#fff"/><circle cx="293.5" cy="838.5" r="5.5" fill="#ff7f0e"/><circle cx="299.5" cy="838.5" r="10.0" fill="#fff"/><circle cx="299.5" cy="838.5" r="5.5" fill="#ff7f0e"/><circle cx="304.5" cy="838.5" r="10.0" fill="#fff"/><circle cx="304.5" cy="838.5" r="5.5" fill="#ff7f0e"/><circle cx="309.5" cy="838.5" r="10.0" fill="#fff"/><circle cx="309.5" cy="838.5" r="5.5" fill="#ff7f0e"/><circle cx="315.5" cy="838.5" r="10.0" fill="#fff"/><circle cx="315.5" cy="838.5" r="5.5" fill="#ff7f0e"/><circle cx="320.5" cy="838.5" r="10.0" fill="#fff"/><circle cx="320.5" cy="838.5" r="5.5" fill="#ff7f0e"/><circle cx="326.5" cy="838.5" r="10.0" fill="#fff"/><circle cx="326.5" cy="838.5" r="5.5" fill="#ff7f0e"/><circle cx="331.5" cy="838.5" r="10.0" fill="#fff"/><circle cx="331.5" cy="838.5" r="5.5" fill="#ff7f0e"/><circle cx="336.5" cy="838.5" r="10.0" fill="#fff"/><circle cx="336.5" cy="838.5" r="5.5" fill="#ff7f0e"/><circle cx="342.5" cy="838.5" r="10.0" fill="#fff"/><circle cx="342.5" cy="838.5" r="5.5" fill="#ff7f0e"/><circle cx="347.5" cy="838.5" r="10.0" fill="#fff"/><circle cx="347.5" cy="838.5" r="5.5" fill="#ff7f0e"/><circle cx="352.5" cy="838.5" r="10.0" fill="#fff"/><circle cx="352.5" cy="838.5" r="5.5" fill="#ff7f0e"/><circle cx="358.5" cy="838.5" r="10.0" fill="#fff"/><circle cx="358.5" cy="838.5" r="5.5" fill="#ff7f0e"/><circle cx="363.5" cy="838.5" r="10.0" fill="#fff"/><circle cx="363.5" cy="838.5" r="5.5" fill="#ff7f0e"/><circle cx="368.5" cy="838.5" r="10.0" fill="#fff"/><circle cx="368.5" cy="838.5" r="5.5" fill="#ff7f0e"/><circle cx="374.5" cy="838.5" r="10.0" fill="#fff"/><circle cx="374.5" cy="838.5" r="5.5" fill="#ff7f0e"/><circle cx="379.5" cy="838.5" r="10.0" fill="#fff"/><circle cx="379.5" cy="838.5" r="5.5" fill="#ff7f0e"/><circle cx="384.5" cy="838.5" r="10.0" fill="#fff"/><circle cx="384.5" cy="838.5" r="5.5" fill="#ff7f0e"/><circle cx="390.5" cy="838.5" r="10.0" fill="#fff"/><circle cx="390.5" cy="838.5" r="5.5" fill="#ff7f0e"/><circle cx="395.5" cy="838.5" r="10.0" fill="#fff"/><circle cx="395.5" cy="838.5" r="5.5" fill="#ff7f0e"/><circle cx="400.5" cy="838.5" r="10.0" fill="#fff"/><circle cx="400.5" cy="838.5" r="5.5" fill="#ff7f0e"/><circle cx="406.5" cy="838.5" r="10.0" fill="#fff"/><circle cx="406.5" cy="838.5" r="5.5" fill="#ff7f0e"/><circle cx="411.5" cy="838.5" r="10.0" fill="#fff"/><circle cx="411.5" cy="838.5" r="5.5" fill="#ff7f0e"/><circle cx="416.5" cy="838.5" r="10.0" fill="#fff"/><circle cx="416.5" cy="838.5" r="5.5" fill="#ff7f0e"/><circle cx="422.5" cy="838.5" r="10.0" fill="#fff"/><circle cx="422.5" cy="838.5" r="5.5" fill="#ff7f0e"/><circle cx="427.5" cy="838.5" r="10.0" fill="#fff"/><circle cx="427.5" cy="838.5" r="5.5" fill="#ff7f0e"/><circle cx="432.5" cy="838.5" r="10.0" fill="#fff"/><circle cx="432.5" cy="838.5" r="5.5" fill="#ff7f0e"/><circle cx="438.5" cy="838.5" r="10.0" fill="#fff"/><circle cx="438.5" cy="838.5" r="5.5" fill="#ff7f0e"/><circle cx="443.5" cy="838.5" r="10.0" fill="#fff"/><circle cx="443.5" cy="838.5" r="5.5" fill="#ff7f0e"/><circle cx="449.5" cy="838.5" r="10.0" fill="#fff"/><circle cx="449.5" cy="838.5" r="5.5" fill="#ff7f0e"/><circle cx="454.5" cy="838.5" r="10.0" fill="#fff"/><circle cx="454.5" cy="838.5" r="5.5" fill="#ff7f0e"/><circle cx="459.5" cy="838.5" r="10.0" fill="#fff"/><circle cx="459.5" cy="838.5" r="5.5" fill="#ff7f0e"/><circle cx="465.5" cy="838.5" r="10.0" fill="#fff"/><circle cx="465.5" cy="838.5" r="5.5" fill="#ff7f0e"/><circle cx="470.5" cy="838.5" r="10.0" fill="#fff"/><circle cx="470.5" cy="838.5" r="5.5" fill="#ff7f0e"/><circle cx="475.5" cy="838.5" r="10.0" fill="#fff"/><circle cx="475.5" cy="838.5" r="5.5" fill="#ff7f0e"/><circle cx="481.5" cy="838.5" r="10.0" fill="#fff"/><circle cx="481.5" cy="838.5" r="5.5" fill="#ff7f0e"/><circle cx="486.5" cy="838.5" r="10.0" fill="#fff"/><circle cx="486.5" cy="838.5" r="5.5" fill="#ff7f0e"/><circle cx="491.5" cy="838.5" r="10.0" fill="#fff"/><circle cx="491.5" cy="838.5" r="5.5" fill="#ff7f0e"/><circle cx="497.5" cy="838.5" r="10.0" fill="#fff"/><circle cx="497.5" cy="838.5" r="5.5" fill="#ff7f0e"/><circle cx="502.5" cy="838.5" r="10.0" fill="#fff"/><circle cx="502.5" cy="838.5" r="5.5" fill="#ff7f0e"/><circle cx="507.5" cy="838.5" r="10.0" fill="#fff"/><circle cx="507.5" cy="838.5" r="5.5" fill="#ff7f0e"/><circle cx="513.5" cy="838.5" r="10.0" fill="#fff"/><circle cx="513.5" cy="838.5" r="5.5" fill="#ff7f0e"/><circle cx="518.5" cy="838.5" r="10.0" fill="#fff"/><circle cx="518.5" cy="838.5" r="5.5" fill="#ff7f0e"/><circle cx="523.5" cy="838.5" r="10.0" fill="#fff"/><circle cx="523.5" cy="838.5" r="5.5" fill="#ff7f0e"/><circle cx="529.5" cy="838.5" r="10.0" fill="#fff"/><circle cx="529.5" cy="838.5" r="5.5" fill="#ff7f0e"/><circle cx="534.5" cy="838.5" r="10.0" fill="#fff"/><circle cx="534.5" cy="838.5" r="5.5" fill="#ff7f0e"/><circle cx="540.5" cy="838.5" r="10.0" fill="#fff"/><circle cx="540.5" cy="838.5" r="5.5" fill="#ff7f0e"/><circle cx="545.5" cy="838.5" r="10.0" fill="#fff"/><circle cx="545.5" cy="838.5" r="5.5" fill="#ff7f0e"/><circle cx="550.5" cy="838.5" r="10.0" fill="#fff"/><circle cx="550.5" cy="838.5" r="5.5" fill="#ff7f0e"/><circle cx="556.5" cy="838.5" r="10.0" fill="#fff"/><circle cx="556.5" cy="838.5" r="5.5" fill="#ff7f0e"/><circle cx="561.5" cy="838.5" r="10.0" fill="#fff"/><circle cx="561.5" cy="838.5" r="5.5" fill="#ff7f0e"/><circle cx="566.5" cy="838.5" r="10.0" fill="#fff"/><circle cx="566.5" cy="838.5" r="5.5" fill="#ff7f0e"/><circle cx="572.5" cy="838.5" r="10.0" fill="#fff"/><circle cx="572.5" cy="838.5" r="5.5" fill="#ff7f0e"/><circle cx="577.5" cy="838.5" r="10.0" fill="#fff"/><circle cx="577.5" cy="838.5" r="5.5" fill="#ff7f0e"/><circle cx="582.5" cy="838.5" r="10.0" fill="#fff"/><circle cx="582.5" cy="838.5" r="5.5" fill="#ff7f0e"/><circle cx="588.5" cy="838.5" r="10.0" fill="#fff"/><circle cx="588.5" cy="838.5" r="5.5" fill="#ff7f0e"/><circle cx="593.5" cy="838.5" r="10.0" fill="#fff"/><circle cx="593.5" cy="838.5" r="5.5" fill="#ff7f0e"/><circle cx="598.5" cy="838.5" r="10.0" fill="#fff"/><circle cx="598.5" cy="838.5" r="5.5" fill="#ff7f0e"/><circle cx="604.5" cy="838.5" r="10.0" fill="#fff"/><circle cx="604.5" cy="838.5" r="5.5" fill="#ff7f0e"/><circle cx="609.5" cy="838.5" r="10.0" fill="#fff"/><circle cx="609.5" cy="838.5" r="5.5" fill="#ff7f0e"/><circle cx="614.5" cy="838.5" r="10.0" fill="#fff"/><circle cx="614.5" cy="838.5" r="5.5" fill="#ff7f0e"/><circle cx="620.5" cy="838.5" r="10.0" fill="#fff"/><circle cx="620.5" cy="838.5" r="5.5" fill="#ff7f0e"/><circle cx="625.5" cy="838.5" r="10.0" fill="#fff"/><circle cx="625.5" cy="838.5" r="5.5" fill="#ff7f0e"/><circle cx="630.5" cy="838.5" r="10.0" fill="#fff"/><circle cx="630.5" cy="838.5" r="5.5" fill="#ff7f0e"/><circle cx="636.5" cy="838.5" r="10.0" fill="#fff"/><circle cx="636.5" cy="838.5" r="5.5" fill="#ff7f0e"/><circle cx="641.5" cy="838.5" r="10.0" fill="#fff"/><circle cx="641.5" cy="838.5" r="5.5" fill="#ff7f0e"/><circle cx="647.5" cy="838.5" r="10.0" fill="#fff"/><circle cx="647.5" cy="838.5" r="5.5" fill="#ff7f0e"/><circle cx="652.5" cy="838.5" r="10.0" fill="#fff"/><circle cx="652.5" cy="838.5" r="5.5" fill="#ff7f0e"/><circle cx="657.5" cy="838.5" r="10.0" fill="#fff"/><circle cx="657.5" cy="838.5" r="5.5" fill="#ff7f0e"/><circle cx="663.5" cy="838.5" r="10.0" fill="#fff"/><circle cx="663.5" cy="838.5" r="5.5" fill="#ff7f0e"/><circle cx="668.5" cy="838.5" r="10.0" fill="#fff"/><circle cx="668.5" cy="838.5" r="5.5" fill="#ff7f0e"/><circle cx="673.5" cy="838.5" r="10.0" fill="#fff"/><circle cx="673.5" cy="838.5" r="5.5" fill="#ff7f0e"/><circle cx="679.5" cy="838.5" r="10.0" fill="#fff"/><circle cx="679.5" cy="838.5" r="5.5" fill="#ff7f0e"/><circle cx="684.5" cy="838.5" r="10.0" fill="#fff"/><circle cx="684.5" cy="838.5" r="5.5" fill="#ff7f0e"/><circle cx="689.5" cy="838.5" r="10.0" fill="#fff"/><circle cx="689.5" cy="838.5" r="5.5" fill="#ff7f0e"/><circle cx="695.5" cy="838.5" r="10.0" fill="#fff"/><circle cx="695.5" cy="838.5" r="5.5" fill="#ff7f0e"/><circle cx="700.5" cy="838.5" r="10.0" fill="#fff"/><circle cx="700.5" cy="838.5" r="5.5" fill="#ff7f0e"/><circle cx="705.5" cy="838.5" r="10.0" fill="#fff"/><circle cx="705.5" cy="838.5" r="5.5" fill="#ff7f0e"/><circle cx="711.5" cy="838.5" r="10.0" fill="#fff"/><circle cx="711.5" cy="838.5" r="5.5" fill="#ff7f0e"/><circle cx="716.5" cy="838.5" r="10.0" fill="#fff"/><circle cx="716.5" cy="838.5" r="5.5" fill="#ff7f0e"/><circle cx="721.5" cy="838.5" r="10.0" fill="#fff"/><circle cx="721.5" cy="838.5" r="5.5" fill="#ff7f0e"/><circle cx="727.5" cy="838.5" r="10.0" fill="#fff"/><circle cx="727.5" cy="838.5" r="5.5" fill="#ff7f0e"/><circle cx="732.5" cy="838.5" r="10.0" fill="#fff"/><circle cx="732.5" cy="838.5" r="5.5" fill="#ff7f0e"/><circle cx="737.5" cy="838.5" r="10.0" fill="#fff"/><circle cx="737.5" cy="838.5" r="5.5" fill="#ff7f0e"/><circle cx="743.5" cy="838.5" r="10.0" fill="#fff"/><circle cx="743.5" cy="838.5" r="5.5" fill="#ff7f0e"/><circle cx="748.5" cy="838.5" r="10.0" fill="#fff"/><circle cx="748.5" cy="838.5" r="5.5" fill="#ff7f0e"/><circle cx="754.5" cy="838.5" r="10.0" fill="#fff"/><circle cx="754.5" cy="838.5" r="5.5" fill="#ff7f0e"/><circle cx="759.5" cy="838.5" r="10.0" fill="#fff"/><circle cx="759.5" cy="838.5" r="5.5" fill="#ff7f0e"/><circle cx="764.5" cy="838.5" r="10.0" fill="#fff"/><circle cx="764.5" cy="838.5" r="5.5" fill="#ff7f0e"/><circle cx="770.5" cy="838.5" r="10.0" fill="#fff"/><circle cx="770.5" cy="838.5" r="5.5" fill="#ff7f0e"/><circle cx="775.5" cy="838.5" r="10.0" fill="#fff"/><circle cx="775.5" cy="838.5" r="5.5" fill="#ff7f0e"/><circle cx="780.5" cy="838.5" r="10.0" fill="#fff"/><circle cx="780.5" cy="838.5" r="5.5" fill="#ff7f0e"/><circle cx="786.5" cy="838.5" r="10.0" fill="#fff"/><circle cx="786.5" cy="838.5" r="5.5" fill="#ff7f0e"/><circle cx="791.5" cy="838.5" r="10.0" fill="#fff"/><circle cx="791.5" cy="838.5" r="5.5" fill="#ff7f0e"/><circle cx="796.5" cy="838.5" r="10.0" fill="#fff"/><circle cx="796.5" cy="838.5" r="5.5" fill="#ff7f0e"/><circle cx="802.5" cy="838.5" r="10.0" fill="#fff"/><circle cx="802.5" cy="838.5" r="5.5" fill="#ff7f0e"/><circle cx="807.5" cy="838.5" r="10.0" fill="#fff"/><circle cx="807.5" cy="838.5" r="5.5" fill="#ff7f0e"/><circle cx="812.5" cy="838.5" r="10.0" fill="#fff"/><circle cx="812.5" cy="838.5" r="5.5" fill="#ff7f0e"/><circle cx="818.5" cy="838.5" r="10.0" fill="#fff"/><circle cx="818.5" cy="838.5" r="5.5" fill="#ff7f0e"/><circle cx="823.5" cy="838.5" r="10.0" fill="#fff"/><circle cx="823.5" cy="838.5" r="5.5" fill="#ff7f0e"/><circle cx="828.5" cy="838.5" r="10.0" fill="#fff"/><circle cx="828.5" cy="838.5" r="5.5" fill="#ff7f0e"/><circle cx="834.5" cy="838.5" r="10.0" fill="#fff"/><circle cx="834.5" cy="838.5" r="5.5" fill="#ff7f0e"/><circle cx="839.5" cy="838.5" r="10.0" fill="#fff"/><circle cx="839.5" cy="838.5" r="5.5" fill="#ff7f0e"/><circle cx="844.5" cy="838.5" r="10.0" fill="#fff"/><circle cx="844.5" cy="838.5" r="5.5" fill="#ff7f0e"/><circle cx="850.5" cy="838.5" r="10.0" fill="#fff"/><circle cx="850.5" cy="838.5" r="5.5" fill="#ff7f0e"/><circle cx="855.5" cy="838.5" r="10.0" fill="#fff"/><circle cx="855.5" cy="838.5" r="5.5" fill="#ff7f0e"/><circle cx="861.5" cy="838.5" r="10.0" fill="#fff"/><circle cx="861.5" cy="838.5" r="5.5" fill="#ff7f0e"/><circle cx="866.5" cy="838.5" r="10.0" fill="#fff"/><circle cx="866.5" cy="838.5" r="5.5" fill="#ff7f0e"/><circle cx="871.5" cy="838.5" r="10.0" fill="#fff"/><circle cx="871.5" cy="838.5" r="5.5" fill="#ff7f0e"/><circle cx="877.5" cy="838.5" r="10.0" fill="#fff"/><circle cx="877.5" cy="838.5" r="5.5" fill="#ff7f0e"/><circle cx="882.5" cy="838.5" r="10.0" fill="#fff"/><circle cx="882.5" cy="838.5" r="5.5" fill="#ff7f0e"/><circle cx="887.5" cy="838.5" r="10.0" fill="#fff"/><circle cx="887.5" cy="838.5" r="5.5" fill="#ff7f0e"/><circle cx="893.5" cy="838.5" r="10.0" fill="#fff"/><circle cx="893.5" cy="838.5" r="5.5" fill="#ff7f0e"/><circle cx="898.5" cy="838.5" r="10.0" fill="#fff"/><circle cx="898.5" cy="838.5" r="5.5" fill="#ff7f0e"/><circle cx="903.5" cy="838.5" r="10.0" fill="#fff"/><circle cx="903.5" cy="838.5" r="5.5" fill="#ff7f0e"/><circle cx="909.5" cy="838.5" r="10.0" fill="#fff"/><circle cx="909.5" cy="838.5" r="5.5" fill="#ff7f0e"/><circle cx="914.5" cy="838.5" r="10.0" fill="#fff"/><circle cx="914.5" cy="838.5" r="5.5" fill="#ff7f0e"/><circle cx="919.5" cy="838.5" r="10.0" fill="#fff"/><circle cx="919.5" cy="838.5" r="5.5" fill="#ff7f0e"/><circle cx="925.5" cy="838.5" r="10.0" fill="#fff"/><circle cx="925.5" cy="838.5" r="5.5" fill="#ff7f0e"/><circle cx="930.5" cy="838.5" r="10.0" fill="#fff"/><circle cx="930.5" cy="838.5" r="5.5" fill="#ff7f0e"/><circle cx="935.5" cy="838.5" r="10.0" fill="#fff"/><circle cx="935.5" cy="838.5" r="5.5" fill="#ff7f0e"/><circle cx="941.5" cy="838.5" r="10.0" fill="#fff"/><circle cx="941.5" cy="838.5" r="5.5" fill="#ff7f0e"/><circle cx="946.5" cy="838.5" r="10.0" fill="#fff"/><circle cx="946.5" cy="838.5" r="5.5" fill="#ff7f0e"/><circle cx="951.5" cy="838.5" r="10.0" fill="#fff"/><circle cx="951.5" cy="838.5" r="5.5" fill="#ff7f0e"/><circle cx="957.5" cy="838.5" r="10.0" fill="#fff"/><circle cx="957.5" cy="838.5" r="5.5" fill="#ff7f0e"/><circle cx="962.5" cy="838.5" r="10.0" fill="#fff"/><circle cx="962.5" cy="838.5" r="5.5" fill="#ff7f0e"/><circle cx="968.5" cy="838.5" r="10.0" fill="#fff"/><circle cx="968.5" cy="838.5" r="5.5" fill="#ff7f0e"/><circle cx="973.5" cy="838.5" r="10.0" fill="#fff"/><circle cx="973.5" cy="838.5" r="5.5" fill="#ff7f0e"/><circle cx="978.5" cy="838.5" r="10.0" fill="#fff"/><circle cx="978.5" cy="838.5" r="5.5" fill="#ff7f0e"/><circle cx="984.5" cy="838.5" r="10.0" fill="#fff"/><circle cx="984.5" cy="838.5" r="5.5" fill="#ff7f0e"/><circle cx="989.5" cy="838.5" r="10.0" fill="#fff"/><circle cx="989.5" cy="838.5" r="5.5" fill="#ff7f0e"/><circle cx="994.5" cy="838.5" r="10.0" fill="#fff"/><circle cx="994.5" cy="838.5" r="5.5" fill="#ff7f0e"/><circle cx="1000.5" cy="838.5" r="10.0" fill="#fff"/><circle cx="1000.5" cy="838.5" r="5.5" fill="#ff7f0e"/><circle cx="1005.5" cy="838.5" r="10.0" fill="#fff"/><circle cx="1005.5" cy="838.5" r="5.5" fill="#ff7f0e"/><circle cx="1010.5" cy="838.5" r="10.0" fill="#fff"/><circle cx="1010.5" cy="838.5" r="5.5" fill="#ff7f0e"/><circle cx="1016.5" cy="838.5" r="10.0" fill="#fff"/><circle cx="1016.5" cy="838.5" r="5.5" fill="#ff7f0e"/><circle cx="1021.5" cy="838.5" r="10.0" fill="#fff"/><circle cx="1021.5" cy="838.5" r="5.5" fill="#ff7f0e"/><circle cx="1026.5" cy="838.5" r="10.0" fill="#fff"/><circle cx="1026.5" cy="838.5" r="5.5" fill="#ff7f0e"/><circle cx="1032.5" cy="838.5" r="10.0" fill="#fff"/><circle cx="1032.5" cy="838.5" r="5.5" fill="#ff7f0e"/><circle cx="1037.5" cy="838.5" r="10.0" fill="#fff"/><circle cx="1037.5" cy="838.5" r="5.5" fill="#ff7f0e"/><circle cx="1042.5" cy="838.5" r="10.0" fill="#fff"/><circle cx="1042.5" cy="838.5" r="5.5" fill="#ff7f0e"/><circle cx="1048.5" cy="838.5" r="10.0" fill="#fff"/><circle cx="1048.5" cy="838.5" r="5.5" fill="#ff7f0e"/><circle cx="1053.5" cy="838.5" r="10.0" fill="#fff"/><circle cx="1053.5" cy="838.5" r="5.5" fill="#ff7f0e"/><circle cx="1058.5" cy="838.5" r="10.0" fill="#fff"/><circle cx="1058.5" cy="838.5" r="5.5" fill="#ff7f0e"/><circle cx="1064.5" cy="838.5" r="10.0" fill="#fff"/><circle cx="1064.5" cy="838.5" r="5.5" fill="#ff7f0e"/><circle cx="1069.5" cy="838.5" r="10.0" fill="#fff"/><circle cx="1069.5" cy="838.5" r="5.5" fill="#ff7f0e"/><circle cx="1075.5" cy="838.5" r="10.0" fill="#fff"/><circle cx="1075.5" cy="838.5" r="5.5" fill="#ff7f0e"/><circle cx="1080.5" cy="838.5" r="10.0" fill="#fff"/><circle cx="1080.5" cy="838.5" r="5.5" fill="#ff7f0e"/><circle cx="1085.5" cy="838.5" r="10.0" fill="#fff"/><circle cx="1085.5" cy="838.5" r="5.5" fill="#ff7f0e"/><circle cx="1091.5" cy="838.5" r="10.0" fill="#fff"/><circle cx="1091.5" cy="838.5" r="5.5" fill="#ff7f0e"/><circle cx="1096.5" cy="838.5" r="10.0" fill="#fff"/><circle cx="1096.5" cy="838.5" r="5.5" fill="#ff7f0e"/><circle cx="1101.5" cy="838.5" r="10.0" fill="#fff"/><circle cx="1101.5" cy="838.5" r="5.5" fill="#ff7f0e"/><circle cx="1107.5" cy="838.5" r="10.0" fill="#fff"/><circle cx="1107.5" cy="838.5" r="5.5" fill="#ff7f0e"/><circle cx="1112.5" cy="838.5" r="10.0" fill="#fff"/><circle cx="1112.5" cy="838.5" r="5.5" fill="#ff7f0e"/><circle cx="1117.5" cy="838.5" r="10.0" fill="#fff"/><circle cx="1117.5" cy="838.5" r="5.5" fill="#ff7f0e"/><circle cx="1123.5" cy="838.5" r="10.0" fill="#fff"/><circle cx="1123.5" cy="838.5" r="5.5" fill="#ff7f0e"/><circle cx="1128.5" cy="838.5" r="10.0" fill="#fff"/><circle cx="1128.5" cy="838.5" r="5.5" fill="#ff7f0e"/><circle cx="1133.5" cy="838.5" r="10.0" fill="#fff"/><circle cx="1133.5" cy="838.5" r="5.5" fill="#ff7f0e"/><circle cx="1139.5" cy="838.5" r="10.0" fill="#fff"/><circle cx="1139.5" cy="838.5" r="5.5" fill="#ff7f0e"/><circle cx="1144.5" cy="838.5" r="10.0" fill="#fff"/><circle cx="1144.5" cy="838.5" r="5.5" fill="#ff7f0e"/><circle cx="1149.5" cy="838.5" r="10.0" fill="#fff"/><circle cx="1149.5" cy="838.5" r="5.5" fill="#ff7f0e"/><circle cx="1155.5" cy="838.5" r="10.0" fill="#fff"/><circle cx="1155.5" cy="838.5" r="5.5" fill="#ff7f0e"/><circle cx="1160.5" cy="838.5" r="10.0" fill="#fff"/><circle cx="1160.5" cy="838.5" r="5.5" fill="#ff7f0e"/>
<polyline points="95.95,838.20 101.30,838.20 106.65,838.20 112.00,838.20 117.35,838.20 122.70,838.20 128.05,838.20 133.40,838.20 138.75,838.20 144.10,838.20 149.45,838.20 154.80,838.20 160.15,838.20 165.50,838.20 170.85,838.20 176.20,838.20 181.55,838.20 186.90,838.20 192.25,838.20 197.60,838.20 202.95,838.20 208.30,838.20 213.65,838.20 219.00,838.20 224.35,838.20 229.70,838.20 235.05,838.20 240.40,838.20 245.75,838.20 251.10,838.20 256.45,838.20 261.80,838.20 267.15,838.20 272.50,838.20 277.85,838.20 283.20,838.20 288.55,838.20 293.90,838.20 299.25,838.20 304.60,838.20 309.95,838.20 315.30,838.20 320.65,838.20 326.00,838.20 331.35,838.20 336.70,838.20 342.05,838.20 347.40,838.20 352.75,838.20 358.10,838.20 363.45,838.20 368.80,838.20 374.15,838.20 379.50,838.20 384.85,838.20 390.20,838.20 395.55,838.20 400.90,838.20 406.25,838.20 411.60,838.20 416.95,838.20 422.30,838.20 427.65,838.20 433.00,838.20 438.35,838.20 443.70,838.20 449.05,838.20 454.40,838.20 459.75,838.20 465.10,838.20 470.45,838.20 475.80,838.20 481.15,838.20 486.50,838.20 491.85,838.20 497.20,838.20 502.55,838.20 507.90,838.20 513.25,838.20 518.60,838.20 523.95,838.20 529.30,838.20 534.65,838.20 540.00,838.20 545.35,838.20 550.70,838.20 556.05,838.20 561.40,838.20 566.75,838.20 572.10,838.20 577.45,838.20 582.80,838.20 588.15,838.20 593.50,838.20 598.85,838.20 604.20,838.20 609.55,838.20 614.90,838.20 620.25,838.20 625.60,838.20 630.95,838.20 636.30,838.20 641.65,838.20 647.00,838.20 652.35,838.20 657.70,838.20 663.05,838.20 668.40,838.20 673.75,838.20 679.10,838.20 684.45,838.20 689.80,838.20 695.15,838.20 700.50,838.20 705.85,838.20 711.20,838.20 716.55,838.20 721.90,838.20 727.25,838.20 732.60,838.20 737.95,838.20 743.30,838.20 748.65,838.20 754.00,838.20 759.35,838.20 764.70,838.20 770.05,838.20 775.40,838.20 780.75,838.20 786.10,838.20 791.45,838.20 796.80,838.20 802.15,838.20 807.50,838.20 812.85,838.20 818.20,838.20 823.55,838.20 828.90,838.20 834.25,838.20 839.60,838.20 844.95,838.20 850.30,838.20 855.65,838.20 861.00,838.20 866.35,838.20 871.70,838.20 877.05,838.20 882.40,838.20 887.75,838.20 893.10,838.20 898.45,838.20 903.80,838.20 909.15,838.20 914.50,838.20 919.85,838.20 925.20,838.20 930.55,838.20 935.90,838.20 941.25,838.20 946.60,838.20 951.95,838.20 957.30,838.20 962.65,838.20 968.00,838.20 973.35,838.20 978.70,838.20 984.05,838.20 989.40,838.20 994.75,838.20 1000.10,838.20 1005.45,838.20 1010.80,838.20 1016.15,838.20 1021.50,838.20 1026.85,838.20 1032.20,838.20 1037.55,838.20 1042.90,838.20 1048.25,838.20 1053.60,838.20 1058.95,838.20 1064.30,838.20 1069.65,838.20 1075.00,838.20 1080.35,838.20 1085.70,838.20 1091.05,838.20 1096.40,838.20 1101.75,838.20 1107.10,838.20 1112.45,838.20 1117.80,838.20 1123.15,838.20 1128.50,838.20 1133.85,838.20 1139.20,838.20 1144.55,838.20 1149.90,838.20 1155.25,838.20 1160.60,838.20" fill="none" stroke="#2ca02c" stroke-width="2" stroke-linejoin="miter"/>
<circle cx="95.5" cy="838.5" r="10.0" fill="#fff"/><circle cx="95.5" cy="838.5" r="5.5" fill="#2ca02c"/><circle cx="101.5" cy="838.5" r="10.0" fill="#fff"/><circle cx="101.5" cy="838.5" r="5.5" fill="#2ca02c"/><circle cx="106.5" cy="838.5" r="10.0" fill="#fff"/><circle cx="106.5" cy="838.5" r="5.5" fill="#2ca02c"/><circle cx="112.5" cy="838.5" r="10.0" fill="#fff"/><circle cx="112.5" cy="838.5" r="5.5" fill="#2ca02c"/><circle cx="117.5" cy="838.5" r="10.0" fill="#fff"/><circle cx="117.5" cy="838.5" r="5.5" fill="#2ca02c"/><circle cx="122.5" cy="838.5" r="10.0" fill="#fff"/><circle cx="122.5" cy="838.5" r="5.5" fill="#2ca02c"/><circle cx="128.5" cy="838.5" r="10.0" fill="#fff"/><circle cx="128.5" cy="838.5" r="5.5" fill="#2ca02c"/><circle cx="133.5" cy="838.5" r="10.0" fill="#fff"/><circle cx="133.5" cy="838.5" r="5.5" fill="#2ca02c"/><circle cx="138.5" cy="838.5" r="10.0" fill="#fff"/><circle cx="138.5" cy="838.5" r="5.5" fill="#2ca02c"/><circle cx="144.5" cy="838.5" r="10.0" fill="#fff"/><circle cx="144.5" cy="838.5" r="5.5" fill="#2ca02c"/><circle cx="149.5" cy="838.5" r="10.0" fill="#fff"/><circle cx="149.5" cy="838.5" r="5.5" fill="#2ca02c"/><circle cx="154.5" cy="838.5" r="10.0" fill="#fff"/><circle cx="154.5" cy="838.5" r="5.5" fill="#2ca02c"/><circle cx="160.5" cy="838.5" r="10.0" fill="#fff"/><circle cx="160.5" cy="838.5" r="5.5" fill="#2ca02c"/><circle cx="165.5" cy="838.5" r="10.0" fill="#fff"/><circle cx="165.5" cy="838.5" r="5.5" fill="#2ca02c"/><circle cx="170.5" cy="838.5" r="10.0" fill="#fff"/><circle cx="170.5" cy="838.5" r="5.5" fill="#2ca02c"/><circle cx="176.5" cy="838.5" r="10.0" fill="#fff"/><circle cx="176.5" cy="838.5" r="5.5" fill="#2ca02c"/><circle cx="181.5" cy="838.5" r="10.0" fill="#fff"/><circle cx="181.5" cy="838.5" r="5.5" fill="#2ca02c"/><circle cx="186.5" cy="838.5" r="10.0" fill="#fff"/><circle cx="186.5" cy="838.5" r="5.5" fill="#2ca02c"/><circle cx="192.5" cy="838.5" r="10.0" fill="#fff"/><circle cx="192.5" cy="838.5" r="5.5" fill="#2ca02c"/><circle cx="197.5" cy="838.5" r="10.0" fill="#fff"/><circle cx="197.5" cy="838.5" r="5.5" fill="#2ca02c"/><circle cx="202.5" cy="838.5" r="10.0" fill="#fff"/><circle cx="202.5" cy="838.5" r="5.5" fill="#2ca02c"/><circle cx="208.5" cy="838.5" r="10.0" fill="#fff"/><circle cx="208.5" cy="838.5" r="5.5" fill="#2ca02c"/><circle cx="213.5" cy="838.5" r="10.0" fill="#fff"/><circle cx="213.5" cy="838.5" r="5.5" fill="#2ca02c"/><circle cx="219.5" cy="838.5" r="10.0" fill="#fff"/><circle cx="219.5" cy="838.5" r="5.5" fill="#2ca02c"/><circle cx="224.5" cy="838.5" r="10.0" fill="#fff"/><circle cx="224.5" cy="838.5" r="5.5" fill="#2ca02c"/><circle cx="229.5" cy="838.5" r="10.0" fill="#fff"/><circle cx="229.5" cy="838.5" r="5.5" fill="#2ca02c"/><circle cx="235.5" cy="838.5" r="10.0" fill="#fff"/><circle cx="235.5" cy="838.5" r="5.5" fill="#2ca02c"/><circle cx="240.5" cy="838.5" r="10.0" fill="#fff"/><circle cx="240.5" cy="838.5" r="5.5" fill="#2ca02c"/><circle cx="245.5" cy="838.5" r="10.0" fill="#fff"/><circle cx="245.5" cy="838.5" r="5.5" fill="#2ca02c"/><circle cx="251.5" cy="838.5" r="10.0" fill="#fff"/><circle cx="251.5" cy="838.5" r="5.5" fill="#2ca02c"/><circle cx="256.5" cy="838.5" r="10.0" fill="#fff"/><circle cx="256.5" cy="838.5" r="5.5" fill="#2ca02c"/><circle cx="261.5" cy="838.5" r="10.0" fill="#fff"/><circle cx="261.5" cy="838.5" r="5.5" fill="#2ca02c"/><circle cx="267.5" cy="838.5" r="10.0" fill="#fff"/><circle cx="267.5" cy="838.5" r="5.5" fill="#2ca02c"/><circle cx="272.5" cy="838.5" r="10.0" fill="#fff"/><circle cx="272.5" cy="838.5" r="5.5" fill="#2ca02c"/><circle cx="277.5" cy="838.5" r="10.0" fill="#fff"/><circle cx="277.5" cy="838.5" r="5.5" fill="#2ca02c"/><circle cx="283.5" cy="838.5" r="10.0" fill="#fff"/><circle cx="283.5" cy="838.5" r="5.5" fill="#2ca02c"/><circle cx="288.5" cy="838.5" r="10.0" fill="#fff"/><circle cx="288.5" cy="838.5" r="5.5" fill="#2ca02c"/><circle cx="293.5" cy="838.5" r="10.0" fill="#fff"/><circle cx="293.5" cy="838.5" r="5.5" fill="#2ca02c"/><circle cx="299.5" cy="838.5" r="10.0" fill="#fff"/><circle cx="299.5" cy="838.5" r="5.5" fill="#2ca02c"/><circle cx="304.5" cy="838.5" r="10.0" fill="#fff"/><circle cx="304.5" cy="838.5" r="5.5" fill="#2ca02c"/><circle cx="309.5" cy="838.5" r="10.0" fill="#fff"/><circle cx="309.5" cy="838.5" r="5.5" fill="#2ca02c"/><circle cx="315.5" cy="838.5" r="10.0" fill="#fff"/><circle cx="315.5" cy="838.5" r="5.5" fill="#2ca02c"/><circle cx="320.5" cy="838.5" r="10.0" fill="#fff"/><circle cx="320.5" cy="838.5" r="5.5" fill="#2ca02c"/><circle cx="326.5" cy="838.5" r="10.0" fill="#fff"/><circle cx="326.5" cy="838.5" r="5.5" fill="#2ca02c"/><circle cx="331.5" cy="838.5" r="10.0" fill="#fff"/><circle cx="331.5" cy="838.5" r="5.5" fill="#2ca02c"/><circle cx="336.5" cy="838.5" r="10.0" fill="#fff"/><circle cx="336.5" cy="838.5" r="5.5" fill="#2ca02c"/><circle cx="342.5" cy="838.5" r="10.0" fill="#fff"/><circle cx="342.5" cy="838.5" r="5.5" fill="#2ca02c"/><circle cx="347.5" cy="838.5" r="10.0" fill="#fff"/><circle cx="347.5" cy="838.5" r="5.5" fill="#2ca02c"/><circle cx="352.5" cy="838.5" r="10.0" fill="#fff"/><circle cx="352.5" cy="838.5" r="5.5" fill="#2ca02c"/><circle cx="358.5" cy="838.5" r="10.0" fill="#fff"/><circle cx="358.5" cy="838.5" r="5.5" fill="#2ca02c"/><circle cx="363.5" cy="838.5" r="10.0" fill="#fff"/><circle cx="363.5" cy="838.5" r="5.5" fill="#2ca02c"/><circle cx="368.5" cy="838.5" r="10.0" fill="#fff"/><circle cx="368.5" cy="838.5" r="5.5" fill="#2ca02c"/><circle cx="374.5" cy="838.5" r="10.0" fill="#fff"/><circle cx="374.5" cy="838.5" r="5.5" fill="#2ca02c"/><circle cx="379.5" cy="838.5" r="10.0" fill="#fff"/><circle cx="379.5" cy="838.5" r="5.5" fill="#2ca02c"/><circle cx="384.5" cy="838.5" r="10.0" fill="#fff"/><circle cx="384.5" cy="838.5" r="5.5" fill="#2ca02c"/><circle cx="390.5" cy="838.5" r="10.0" fill="#fff"/><circle cx="390.5" cy="838.5" r="5.5" fill="#2ca02c"/><circle cx="395.5" cy="838.5" r="10.0" fill="#fff"/><circle cx="395.5" cy="838.5" r="5.5" fill="#2ca02c"/><circle cx="400.5" cy="838.5" r="10.0" fill="#fff"/><circle cx="400.5" cy="838.5" r="5.5" fill="#2ca02c"/><circle cx="406.5" cy="838.5" r="10.0" fill="#fff"/><circle cx="406.5" cy="838.5" r="5.5" fill="#2ca02c"/><circle cx="411.5" cy="838.5" r="10.0" fill="#fff"/><circle cx="411.5" cy="838.5" r="5.5" fill="#2ca02c"/><circle cx="416.5" cy="838.5" r="10.0" fill="#fff"/><circle cx="416.5" cy="838.5" r="5.5" fill="#2ca02c"/><circle cx="422.5" cy="838.5" r="10.0" fill="#fff"/><circle cx="422.5" cy="838.5" r="5.5" fill="#2ca02c"/><circle cx="427.5" cy="838.5" r="10.0" fill="#fff"/><circle cx="427.5" cy="838.5" r="5.5" fill="#2ca02c"/><circle cx="432.5" cy="838.5" r="10.0" fill="#fff"/><circle cx="432.5" cy="838.5" r="5.5" fill="#2ca02c"/><circle cx="438.5" cy="838.5" r="10.0" fill="#fff"/><circle cx="438.5" cy="838.5" r="5.5" fill="#2ca02c"/><circle cx="443.5" cy="838.5" r="10.0" fill="#fff"/><circle cx="443.5" cy="838.5" r="5.5" fill="#2ca02c"/><circle cx="449.5" cy="838.5" r="10.0" fill="#fff"/><circle cx="449.5" cy="838.5" r="5.5" fill="#2ca02c"/><circle cx="454.5" cy="838.5" r="10.0" fill="#fff"/><circle cx="454.5" cy="838.5" r="5.5" fill="#2ca02c"/><circle cx="459.5" cy="838.5" r="10.0" fill="#fff"/><circle cx="459.5" cy="838.5" r="5.5" fill="#2ca02c"/><circle cx="465.5" cy="838.5" r="10.0" fill="#fff"/><circle cx="465.5" cy="838.5" r="5.5" fill="#2ca02c"/><circle cx="470.5" cy="838.5" r="10.0" fill="#fff"/><circle cx="470.5" cy="838.5" r="5.5" fill="#2ca02c"/><circle cx="475.5" cy="838.5" r="10.0" fill="#fff"/><circle cx="475.5" cy="838.5" r="5.5" fill="#2ca02c"/><circle cx="481.5" cy="838.5" r="10.0" fill="#fff"/><circle cx="481.5" cy="838.5" r="5.5" fill="#2ca02c"/><circle cx="486.5" cy="838.5" r="10.0" fill="#fff"/><circle cx="486.5" cy="838.5" r="5.5" fill="#2ca02c"/><circle cx="491.5" cy="838.5" r="10.0" fill="#fff"/><circle cx="491.5" cy="838.5" r="5.5" fill="#2ca02c"/><circle cx="497.5" cy="838.5" r="10.0" fill="#fff"/><circle cx="497.5" cy="838.5" r="5.5" fill="#2ca02c"/><circle cx="502.5" cy="838.5" r="10.0" fill="#fff"/><circle cx="502.5" cy="838.5" r="5.5" fill="#2ca02c"/><circle cx="507.5" cy="838.5" r="10.0" fill="#fff"/><circle cx="507.5" cy="838.5" r="5.5" fill="#2ca02c"/><circle cx="513.5" cy="838.5" r="10.0" fill="#fff"/><circle cx="513.5" cy="838.5" r="5.5" fill="#2ca02c"/><circle cx="518.5" cy="838.5" r="10.0" fill="#fff"/><circle cx="518.5" cy="838.5" r="5.5" fill="#2ca02c"/><circle cx="523.5" cy="838.5" r="10.0" fill="#fff"/><circle cx="523.5" cy="838.5" r="5.5" fill="#2ca02c"/><circle cx="529.5" cy="838.5" r="10.0" fill="#fff"/><circle cx="529.5" cy="838.5" r="5.5" fill="#2ca02c"/><circle cx="534.5" cy="838.5" r="10.0" fill="#fff"/><circle cx="534.5" cy="838.5" r="5.5" fill="#2ca02c"/><circle cx="540.5" cy="838.5" r="10.0" fill="#fff"/><circle cx="540.5" cy="838.5" r="5.5" fill="#2ca02c"/><circle cx="545.5" cy="838.5" r="10.0" fill="#fff"/><circle cx="545.5" cy="838.5" r="5.5" fill="#2ca02c"/><circle cx="550.5" cy="838.5" r="10.0" fill="#fff"/><circle cx="550.5" cy="838.5" r="5.5" fill="#2ca02c"/><circle cx="556.5" cy="838.5" r="10.0" fill="#fff"/><circle cx="556.5" cy="838.5" r="5.5" fill="#2ca02c"/><circle cx="561.5" cy="838.5" r="10.0" fill="#fff"/><circle cx="561.5" cy="838.5" r="5.5" fill="#2ca02c"/><circle cx="566.5" cy="838.5" r="10.0" fill="#fff"/><circle cx="566.5" cy="838.5" r="5.5" fill="#2ca02c"/><circle cx="572.5" cy="838.5" r="10.0" fill="#fff"/><circle cx="572.5" cy="838.5" r="5.5" fill="#2ca02c"/><circle cx="577.5" cy="838.5" r="10.0" fill="#fff"/><circle cx="577.5" cy="838.5" r="5.5" fill="#2ca02c"/><circle cx="582.5" cy="838.5" r="10.0" fill="#fff"/><circle cx="582.5" cy="838.5" r="5.5" fill="#2ca02c"/><circle cx="588.5" cy="838.5" r="10.0" fill="#fff"/><circle cx="588.5" cy="838.5" r="5.5" fill="#2ca02c"/><circle cx="593.5" cy="838.5" r="10.0" fill="#fff"/><circle cx="593.5" cy="838.5" r="5.5" fill="#2ca02c"/><circle cx="598.5" cy="838.5" r="10.0" fill="#fff"/><circle cx="598.5" cy="838.5" r="5.5" fill="#2ca02c"/><circle cx="604.5" cy="838.5" r="10.0" fill="#fff"/><circle cx="604.5" cy="838.5" r="5.5" fill="#2ca02c"/><circle cx="609.5" cy="838.5" r="10.0" fill="#fff"/><circle cx="609.5" cy="838.5" r="5.5" fill="#2ca02c"/><circle cx="614.5" cy="838.5" r="10.0" fill="#fff"/><circle cx="614.5" cy="838.5" r="5.5" fill="#2ca02c"/><circle cx="620.5" cy="838.5" r="10.0" fill="#fff"/><circle cx="620.5" cy="838.5" r="5.5" fill="#2ca02c"/><circle cx="625.5" cy="838.5" r="10.0" fill="#fff"/><circle cx="625.5" cy="838.5" r="5.5" fill="#2ca02c"/><circle cx="630.5" cy="838.5" r="10.0" fill="#fff"/><circle cx="630.5" cy="838.5" r="5.5" fill="#2ca02c"/><circle cx="636.5" cy="838.5" r="10.0" fill="#fff"/><circle cx="636.5" cy="838.5" r="5.5" fill="#2ca02c"/><circle cx="641.5" cy="838.5" r="10.0" fill="#fff"/><circle cx="641.5" cy="838.5" r="5.5" fill="#2ca02c"/><circle cx="647.5" cy="838.5" r="10.0" fill="#fff"/><circle cx="647.5" cy="838.5" r="5.5" fill="#2ca02c"/><circle cx="652.5" cy="838.5" r="10.0" fill="#fff"/><circle cx="652.5" cy="838.5" r="5.5" fill="#2ca02c"/><circle cx="657.5" cy="838.5" r="10.0" fill="#fff"/><circle cx="657.5" cy="838.5" r="5.5" fill="#2ca02c"/><circle cx="663.5" cy="838.5" r="10.0" fill="#fff"/><circle cx="663.5" cy="838.5" r="5.5" fill="#2ca02c"/><circle cx="668.5" cy="838.5" r="10.0" fill="#fff"/><circle cx="668.5" cy="838.5" r="5.5" fill="#2ca02c"/><circle cx="673.5" cy="838.5" r="10.0" fill="#fff"/><circle cx="673.5" cy="838.5" r="5.5" fill="#2ca02c"/><circle cx="679.5" cy="838.5" r="10.0" fill="#fff"/><circle cx="679.5" cy="838.5" r="5.5" fill="#2ca02c"/><circle cx="684.5" cy="838.5" r="10.0" fill="#fff"/><circle cx="684.5" cy="838.5" r="5.5" fill="#2ca02c"/><circle cx="689.5" cy="838.5" r="10.0" fill="#fff"/><circle cx="689.5" cy="838.5" r="5.5" fill="#2ca02c"/><circle cx="695.5" cy="838.5" r="10.0" fill="#fff"/><circle cx="695.5" cy="838.5" r="5.5" fill="#2ca02c"/><circle cx="700.5" cy="838.5" r="10.0" fill="#fff"/><circle cx="700.5" cy="838.5" r="5.5" fill="#2ca02c"/><circle cx="705.5" cy="838.5" r="10.0" fill="#fff"/><circle cx="705.5" cy="838.5" r="5.5" fill="#2ca02c"/><circle cx="711.5" cy="838.5" r="10.0" fill="#fff"/><circle cx="711.5" cy="838.5" r="5.5" fill="#2ca02c"/><circle cx="716.5" cy="838.5" r="10.0" fill="#fff"/><circle cx="716.5" cy="838.5" r="5.5" fill="#2ca02c"/><circle cx="721.5" cy="838.5" r="10.0" fill="#fff"/><circle cx="721.5" cy="838.5" r="5.5" fill="#2ca02c"/><circle cx="727.5" cy="838.5" r="10.0" fill="#fff"/><circle cx="727.5" cy="838.5" r="5.5" fill="#2ca02c"/><circle cx="732.5" cy="838.5" r="10.0" fill="#fff"/><circle cx="732.5" cy="838.5" r="5.5" fill="#2ca02c"/><circle cx="737.5" cy="838.5" r="10.0" fill="#fff"/><circle cx="737.5" cy="838.5" r="5.5" fill="#2ca02c"/><circle cx="743.5" cy="838.5" r="10.0" fill="#fff"/><circle cx="743.5" cy="838.5" r="5.5" fill="#2ca02c"/><circle cx="748.5" cy="838.5" r="10.0" fill="#fff"/><circle cx="748.5" cy="838.5" r="5.5" fill="#2ca02c"/><circle cx="754.5" cy="838.5" r="10.0" fill="#fff"/><circle cx="754.5" cy="838.5" r="5.5" fill="#2ca02c"/><circle cx="759.5" cy="838.5" r="10.0" fill="#fff"/><circle cx="759.5" cy="838.5" r="5.5" fill="#2ca02c"/><circle cx="764.5" cy="838.5" r="10.0" fill="#fff"/><circle cx="764.5" cy="838.5" r="5.5" fill="#2ca02c"/><circle cx="770.5" cy="838.5" r="10.0" fill="#fff"/><circle cx="770.5" cy="838.5" r="5.5" fill="#2ca02c"/><circle cx="775.5" cy="838.5" r="10.0" fill="#fff"/><circle cx="775.5" cy="838.5" r="5.5" fill="#2ca02c"/><circle cx="780.5" cy="838.5" r="10.0" fill="#fff"/><circle cx="780.5" cy="838.5" r="5.5" fill="#2ca02c"/><circle cx="786.5" cy="838.5" r="10.0" fill="#fff"/><circle cx="786.5" cy="838.5" r="5.5" fill="#2ca02c"/><circle cx="791.5" cy="838.5" r="10.0" fill="#fff"/><circle cx="791.5" cy="838.5" r="5.5" fill="#2ca02c"/><circle cx="796.5" cy="838.5" r="10.0" fill="#fff"/><circle cx="796.5" cy="838.5" r="5.5" fill="#2ca02c"/><circle cx="802.5" cy="838.5" r="10.0" fill="#fff"/><circle cx="802.5" cy="838.5" r="5.5" fill="#2ca02c"/><circle cx="807.5" cy="838.5" r="10.0" fill="#fff"/><circle cx="807.5" cy="838.5" r="5.5" fill="#2ca02c"/><circle cx="812.5" cy="838.5" r="10.0" fill="#fff"/><circle cx="812.5" cy="838.5" r="5.5" fill="#2ca02c"/><circle cx="818.5" cy="838.5" r="10.0" fill="#fff"/><circle cx="818.5" cy="838.5" r="5.5" fill="#2ca02c"/><circle cx="823.5" cy="838.5" r="10.0" fill="#fff"/><circle cx="823.5" cy="838.5" r="5.5" fill="#2ca02c"/><circle cx="828.5" cy="838.5" r="10.0" fill="#fff"/><circle cx="828.5" cy="838.5" r="5.5" fill="#2ca02c"/><circle cx="834.5" cy="838.5" r="10.0" fill="#fff"/><circle cx="834.5" cy="838.5" r="5.5" fill="#2ca02c"/><circle cx="839.5" cy="838.5" r="10.0" fill="#fff"/><circle cx="839.5" cy="838.5" r="5.5" fill="#2ca02c"/><circle cx="844.5" cy="838.5" r="10.0" fill="#fff"/><circle cx="844.5" cy="838.5" r="5.5" fill="#2ca02c"/><circle cx="850.5" cy="838.5" r="10.0" fill="#fff"/><circle cx="850.5" cy="838.5" r="5.5" fill="#2ca02c"/><circle cx="855.5" cy="838.5" r="10.0" fill="#fff"/><circle cx="855.5" cy="838.5" r="5.5" fill="#2ca02c"/><circle cx="861.5" cy="838.5" r="10.0" fill="#fff"/><circle cx="861.5" cy="838.5" r="5.5" fill="#2ca02c"/><circle cx="866.5" cy="838.5" r="10.0" fill="#fff"/><circle cx="866.5" cy="838.5" r="5.5" fill="#2ca02c"/><circle cx="871.5" cy="838.5" r="10.0" fill="#fff"/><circle cx="871.5" cy="838.5" r="5.5" fill="#2ca02c"/><circle cx="877.5" cy="838.5" r="10.0" fill="#fff"/><circle cx="877.5" cy="838.5" r="5.5" fill="#2ca02c"/><circle cx="882.5" cy="838.5" r="10.0" fill="#fff"/><circle cx="882.5" cy="838.5" r="5.5" fill="#2ca02c"/><circle cx="887.5" cy="838.5" r="10.0" fill="#fff"/><circle cx="887.5" cy="838.5" r="5.5" fill="#2ca02c"/><circle cx="893.5" cy="838.5" r="10.0" fill="#fff"/><circle cx="893.5" cy="838.5" r="5.5" fill="#2ca02c"/><circle cx="898.5" cy="838.5" r="10.0" fill="#fff"/><circle cx="898.5" cy="838.5" r="5.5" fill="#2ca02c"/><circle cx="903.5" cy="838.5" r="10.0" fill="#fff"/><circle cx="903.5" cy="838.5" r="5.5" fill="#2ca02c"/><circle cx="909.5" cy="838.5" r="10.0" fill="#fff"/><circle cx="909.5" cy="838.5" r="5.5" fill="#2ca02c"/><circle cx="914.5" cy="838.5" r="10.0" fill="#fff"/><circle cx="914.5" cy="838.5" r="5.5" fill="#2ca02c"/><circle cx="919.5" cy="838.5" r="10.0" fill="#fff"/><circle cx="919.5" cy="838.5" r="5.5" fill="#2ca02c"/><circle cx="925.5" cy="838.5" r="10.0" fill="#fff"/><circle cx="925.5" cy="838.5" r="5.5" fill="#2ca02c"/><circle cx="930.5" cy="838.5" r="10.0" fill="#fff"/><circle cx="930.5" cy="838.5" r="5.5" fill="#2ca02c"/><circle cx="935.5" cy="838.5" r="10.0" fill="#fff"/><circle cx="935.5" cy="838.5" r="5.5" fill="#2ca02c"/><circle cx="941.5" cy="838.5" r="10.0" fill="#fff"/><circle cx="941.5" cy="838.5" r="5.5" fill="#2ca02c"/><circle cx="946.5" cy="838.5" r="10.0" fill="#fff"/><circle cx="946.5" cy="838.5" r="5.5" fill="#2ca02c"/><circle cx="951.5" cy="838.5" r="10.0" fill="#fff"/><circle cx="951.5" cy="838.5" r="5.5" fill="#2ca02c"/><circle cx="957.5" cy="838.5" r="10.0" fill="#fff"/><circle cx="957.5" cy="838.5" r="5.5" fill="#2ca02c"/><circle cx="962.5" cy="838.5" r="10.0" fill="#fff"/><circle cx="962.5" cy="838.5" r="5.5" fill="#2ca02c"/><circle cx="968.5" cy="838.5" r="10.0" fill="#fff"/><circle cx="968.5" cy="838.5" r="5.5" fill="#2ca02c"/><circle cx="973.5" cy="838.5" r="10.0" fill="#fff"/><circle cx="973.5" cy="838.5" r="5.5" fill="#2ca02c"/><circle cx="978.5" cy="838.5" r="10.0" fill="#fff"/><circle cx="978.5" cy="838.5" r="5.5" fill="#2ca02c"/><circle cx="984.5" cy="838.5" r="10.0" fill="#fff"/><circle cx="984.5" cy="838.5" r="5.5" fill="#2ca02c"/><circle cx="989.5" cy="838.5" r="10.0" fill="#fff"/><circle cx="989.5" cy="838.5" r="5.5" fill="#2ca02c"/><circle cx="994.5" cy="838.5" r="10.0" fill="#fff"/><circle cx="994.5" cy="838.5" r="5.5" fill="#2ca02c"/><circle cx="1000.5" cy="838.5" r="10.0" fill="#fff"/><circle cx="1000.5" cy="838.5" r="5.5" fill="#2ca02c"/><circle cx="1005.5" cy="838.5" r="10.0" fill="#fff"/><circle cx="1005.5" cy="838.5" r="5.5" fill="#2ca02c"/><circle cx="1010.5" cy="838.5" r="10.0" fill="#fff"/><circle cx="1010.5" cy="838.5" r="5.5" fill="#2ca02c"/><circle cx="1016.5" cy="838.5" r="10.0" fill="#fff"/><circle cx="1016.5" cy="838.5" r="5.5" fill="#2ca02c"/><circle cx="1021.5" cy="838.5" r="10.0" fill="#fff"/><circle cx="1021.5" cy="838.5" r="5.5" fill="#2ca02c"/><circle cx="1026.5" cy="838.5" r="10.0" fill="#fff"/><circle cx="1026.5" cy="838.5" r="5.5" fill="#2ca02c"/><circle cx="1032.5" cy="838.5" r="10.0" fill="#fff"/><circle cx="1032.5" cy="838.5" r="5.5" fill="#2ca02c"/><circle cx="1037.5" cy="838.5" r="10.0" fill="#fff"/><circle cx="1037.5" cy="838.5" r="5.5" fill="#2ca02c"/><circle cx="1042.5" cy="838.5" r="10.0" fill="#fff"/><circle cx="1042.5" cy="838.5" r="5.5" fill="#2ca02c"/><circle cx="1048.5" cy="838.5" r="10.0" fill="#fff"/><circle cx="1048.5" cy="838.5" r="5.5" fill="#2ca02c"/><circle cx="1053.5" cy="838.5" r="10.0" fill="#fff"/><circle cx="1053.5" cy="838.5" r="5.5" fill="#2ca02c"/><circle cx="1058.5" cy="838.5" r="10.0" fill="#fff"/><circle cx="1058.5" cy="838.5" r="5.5" fill="#2ca02c"/><circle cx="1064.5" cy="838.5" r="10.0" fill="#fff"/><circle cx="1064.5" cy="838.5" r="5.5" fill="#2ca02c"/><circle cx="1069.5" cy="838.5" r="10.0" fill="#fff"/><circle cx="1069.5" cy="838.5" r="5.5" fill="#2ca02c"/><circle cx="1075.5" cy="838.5" r="10.0" fill="#fff"/><circle cx="1075.5" cy="838.5" r="5.5" fill="#2ca02c"/><circle cx="1080.5" cy="838.5" r="10.0" fill="#fff"/><circle cx="1080.5" cy="838.5" r="5.5" fill="#2ca02c"/><circle cx="1085.5" cy="838.5" r="10.0" fill="#fff"/><circle cx="1085.5" cy="838.5" r="5.5" fill="#2ca02c"/><circle cx="1091.5" cy="838.5" r="10.0" fill="#fff"/><circle cx="1091.5" cy="838.5" r="5.5" fill="#2ca02c"/><circle cx="1096.5" cy="838.5" r="10.0" fill="#fff"/><circle cx="1096.5" cy="838.5" r="5.5" fill="#2ca02c"/><circle cx="1101.5" cy="838.5" r="10.0" fill="#fff"/><circle cx="1101.5" cy="838.5" r="5.5" fill="#2ca02c"/><circle cx="1107.5" cy="838.5" r="10.0" fill="#fff"/><circle cx="1107.5" cy="838.5" r="5.5" fill="#2ca02c"/><circle cx="1112.5" cy="838.5" r="10.0" fill="#fff"/><circle cx="1112.5" cy="838.5" r="5.5" fill="#2ca02c"/><circle cx="1117.5" cy="838.5" r="10.0" fill="#fff"/><circle cx="1117.5" cy="838.5" r="5.5" fill="#2ca02c"/><circle cx="1123.5" cy="838.5" r="10.0" fill="#fff"/><circle cx="1123.5" cy="838.5" r="5.5" fill="#2ca02c"/><circle cx="1128.5" cy="838.5" r="10.0" fill="#fff"/><circle cx="1128.5" cy="838.5" r="5.5" fill="#2ca02c"/><circle cx="1133.5" cy="838.5" r="10.0" fill="#fff"/><circle cx="1133.5" cy="838.5" r="5.5" fill="#2ca02c"/><circle cx="1139.5" cy="838.5" r="10.0" fill="#fff"/><circle cx="1139.5" cy="838.5" r="5.5" fill="#2ca02c"/><circle cx="1144.5" cy="838.5" r="10.0" fill="#fff"/><circle cx="1144.5" cy="838.5" r="5.5" fill="#2ca02c"/><circle cx="1149.5" cy="838.5" r="10.0" fill="#fff"/><circle cx="1149.5" cy="838.5" r="5.5" fill="#2ca02c"/><circle cx="1155.5" cy="838.5" r="10.0" fill="#fff"/><circle cx="1155.5" cy="838.5" r="5.5" fill="#2ca02c"/><circle cx="1160.5" cy="838.5" r="10.0" fill="#fff"/><circle cx="1160.5" cy="838.5" r="5.5" fill="#2ca02c"/>
<path d="M95.5 57.5V838.5H1165.5" stroke="#000" stroke-width="1" fill="none"/>
<text x="86.2" y="844.3" font-size="16.3" text-anchor="end" textLength="10.19" lengthAdjust="spacingAndGlyphs">0</text>
<text x="86.2" y="758.3" font-size="16.3" text-anchor="end" textLength="30.57" lengthAdjust="spacingAndGlyphs">200</text>
<text x="86.2" y="671.3" font-size="16.3" text-anchor="end" textLength="30.57" lengthAdjust="spacingAndGlyphs">400</text>
<text x="86.2" y="584.3" font-size="16.3" text-anchor="end" textLength="30.57" lengthAdjust="spacingAndGlyphs">600</text>
<text x="86.2" y="497.3" font-size="16.3" text-anchor="end" textLength="30.57" lengthAdjust="spacingAndGlyphs">800</text>
<text x="86.2" y="410.3" font-size="16.3" text-anchor="end" textLength="40.76" lengthAdjust="spacingAndGlyphs">1000</text>
<text x="86.2" y="323.3" font-size="16.3" text-anchor="end" textLength="40.76" lengthAdjust="spacingAndGlyphs">1200</text>
<text x="86.2" y="237.3" font-size="16.3" text-anchor="end" textLength="40.76" lengthAdjust="spacingAndGlyphs">1400</text>
<text x="86.2" y="150.3" font-size="16.3" text-anchor="end" textLength="40.76" lengthAdjust="spacingAndGlyphs">1600</text>
<text x="86.2" y="63.3" font-size="16.3" text-anchor="end" textLength="40.76" lengthAdjust="spacingAndGlyphs">1800</text>
<text x="93.41" y="863.8" font-size="16.3" textLength="10.19" lengthAdjust="spacingAndGlyphs">0</text>
<text x="195.31" y="863.8" font-size="16.3" textLength="20.38" lengthAdjust="spacingAndGlyphs">20</text>
<text x="302.31" y="863.8" font-size="16.3" textLength="20.38" lengthAdjust="spacingAndGlyphs">40</text>
<text x="409.31" y="863.8" font-size="16.3" textLength="20.38" lengthAdjust="spacingAndGlyphs">60</text>
<text x="516.31" y="863.8" font-size="16.3" textLength="20.38" lengthAdjust="spacingAndGlyphs">80</text>
<text x="618.22" y="863.8" font-size="16.3" textLength="30.57" lengthAdjust="spacingAndGlyphs">100</text>
<text x="725.22" y="863.8" font-size="16.3" textLength="30.57" lengthAdjust="spacingAndGlyphs">120</text>
<text x="832.22" y="863.8" font-size="16.3" textLength="30.57" lengthAdjust="spacingAndGlyphs">140</text>
<text x="939.22" y="863.8" font-size="16.3" textLength="30.57" lengthAdjust="spacingAndGlyphs">160</text>
<text x="1046.21" y="863.8" font-size="16.3" textLength="30.57" lengthAdjust="spacingAndGlyphs">180</text>
<text x="1153.21" y="863.8" font-size="16.3" textLength="30.57" lengthAdjust="spacingAndGlyphs">200</text>
<text x="597.67" y="891.8" font-size="16.3" textLength="65.06" lengthAdjust="spacingAndGlyphs">Time (s)</text>
<text transform="translate(23.9 447.8) rotate(-90)" x="-30.34" y="0" font-size="16.3" textLength="60.69" lengthAdjust="spacingAndGlyphs">Packets</text>
<text x="0.90" y="34.5" font-size="16.3" textLength="80.28" lengthAdjust="spacingAndGlyphs">earchlight</text><text x="81.17" y="34.5" font-size="16.3" textLength="5.41" lengthAdjust="spacingAndGlyphs">/</text><text x="86.56" y="34.5" font-size="16.3" textLength="53.81" lengthAdjust="spacingAndGlyphs">corpus</text><text x="140.35" y="34.5" font-size="16.3" textLength="5.41" lengthAdjust="spacingAndGlyphs">/</text><text x="145.74" y="34.5" font-size="16.3" textLength="79.78" lengthAdjust="spacingAndGlyphs">julyreruns</text><text x="225.51" y="34.5" font-size="16.3" textLength="5.41" lengthAdjust="spacingAndGlyphs">/</text><text x="230.90" y="34.5" font-size="16.3" textLength="46.80" lengthAdjust="spacingAndGlyphs">tiered</text><text x="277.70" y="34.5" font-size="16.3" textLength="5.39" lengthAdjust="spacingAndGlyphs">/</text><text x="283.09" y="34.5" font-size="16.3" textLength="80.16" lengthAdjust="spacingAndGlyphs">wireguard</text><text x="363.24" y="34.5" font-size="16.3" textLength="5.39" lengthAdjust="spacingAndGlyphs">/</text><text x="368.63" y="34.5" font-size="16.3" textLength="91.91" lengthAdjust="spacingAndGlyphs">experiment</text>
<text x="460.54" y="38.7" font-size="13" textLength="8.16" lengthAdjust="spacingAndGlyphs">1</text>
<text x="468.70" y="34.5" font-size="16.3" textLength="5.39" lengthAdjust="spacingAndGlyphs">/</text><text x="474.09" y="34.5" font-size="16.3" textLength="36.44" lengthAdjust="spacingAndGlyphs">eth1</text>
<text x="510.53" y="38.7" font-size="13" textLength="3.56" lengthAdjust="spacingAndGlyphs">i</text>
<text x="514.09" y="34.5" font-size="16.3" textLength="66.92" lengthAdjust="spacingAndGlyphs">nterface</text><text x="581.00" y="34.5" font-size="16.3" textLength="5.41" lengthAdjust="spacingAndGlyphs">/</text><text x="586.39" y="34.5" font-size="16.3" textLength="22.95" lengthAdjust="spacingAndGlyphs">sts</text><text x="609.34" y="34.5" font-size="16.3" textLength="5.39" lengthAdjust="spacingAndGlyphs">/</text><text x="614.73" y="34.5" font-size="16.3" textLength="29.19" lengthAdjust="spacingAndGlyphs">exp</text><text x="643.92" y="34.5" font-size="16.3" textLength="5.78" lengthAdjust="spacingAndGlyphs">-</text><text x="649.68" y="34.5" font-size="16.3" textLength="8.81" lengthAdjust="spacingAndGlyphs">c</text><text x="658.48" y="34.5" font-size="16.3" textLength="5.78" lengthAdjust="spacingAndGlyphs">-</text><text x="664.26" y="34.5" font-size="16.3" textLength="35.66" lengthAdjust="spacingAndGlyphs">slow</text><text x="699.92" y="34.5" font-size="16.3" textLength="5.78" lengthAdjust="spacingAndGlyphs">-</text><text x="705.68" y="34.5" font-size="16.3" textLength="32.84" lengthAdjust="spacingAndGlyphs">true</text><text x="738.53" y="34.5" font-size="16.3" textLength="5.39" lengthAdjust="spacingAndGlyphs">/</text><text x="743.92" y="34.5" font-size="16.3" textLength="101.80" lengthAdjust="spacingAndGlyphs">1658799558</text><text x="845.72" y="34.5" font-size="16.3" textLength="5.78" lengthAdjust="spacingAndGlyphs">-</text><text x="851.48" y="34.5" font-size="16.3" textLength="18.98" lengthAdjust="spacingAndGlyphs">c1</text><text x="870.47" y="34.5" font-size="16.3" textLength="5.09" lengthAdjust="spacingAndGlyphs">.</text><text x="875.54" y="34.5" font-size="16.3" textLength="46.20" lengthAdjust="spacingAndGlyphs">wgsts</text><text x="921.73" y="34.5" font-size="16.3" textLength="5.09" lengthAdjust="spacingAndGlyphs">.</text><text x="926.82" y="34.5" font-size="16.3" textLength="46.80" lengthAdjust="spacingAndGlyphs">tiered</text><text x="973.61" y="34.5" font-size="16.3" textLength="5.09" lengthAdjust="spacingAndGlyphs">.</text><text x="978.70" y="34.5" font-size="16.3" textLength="54.45" lengthAdjust="spacingAndGlyphs">pharos</text><text x="1033.15" y="34.5" font-size="16.3" textLength="5.78" lengthAdjust="spacingAndGlyphs">-</text><text x="1038.92" y="34.5" font-size="16.3" textLength="103.11" lengthAdjust="spacingAndGlyphs">wireguardsts</text><text x="1142.03" y="34.5" font-size="16.3" textLength="5.78" lengthAdjust="spacingAndGlyphs">-</text><text x="1147.79" y="34.5" font-size="16.3" textLength="8.81" lengthAdjust="spacingAndGlyphs">c</text><text x="1156.59" y="34.5" font-size="16.3" textLength="5.78" lengthAdjust="spacingAndGlyphs">-</text><text x="1162.37" y="34.5" font-size="16.3" textLength="43.33" lengthAdjust="spacingAndGlyphs">cloud</text>
<text x="1056.54" y="79.8" font-size="16.3" textLength="29.66" lengthAdjust="spacingAndGlyphs">TCP</text>
<path d="M1097.3 74.5H1145.5" stroke="#0060ad" stroke-width="2"/>
<circle cx="1121.4" cy="74.5" r="10.0" fill="#fff"/><circle cx="1121.4" cy="74.5" r="5.5" fill="#0060ad"/>
<text x="1052.51" y="98.7" font-size="16.3" textLength="33.69" lengthAdjust="spacingAndGlyphs">UDP</text>
<path d="M1097.3 93.4H1145.5" stroke="#ff7f0e" stroke-width="2"/>
<circle cx="1121.4" cy="93.4" r="10.0" fill="#fff"/><circle cx="1121.4" cy="93.4" r="5.5" fill="#ff7f0e"/>
<text x="969.3" y="117.6" font-size="16.3" textLength="61.77" lengthAdjust="spacingAndGlyphs">IP (!TCP</text>
<text x="1041.1" y="117.6" font-size="16.3" textLength="46.34" lengthAdjust="spacingAndGlyphs">!UDP)</text>
<path d="M1097.3 112.3H1145.5" stroke="#2ca02c" stroke-width="2"/>
<circle cx="1121.4" cy="112.3" r="10.0" fill="#fff"/><circle cx="1121.4" cy="112.3" r="5.5" fill="#2ca02c"/>
</svg></body></html>
